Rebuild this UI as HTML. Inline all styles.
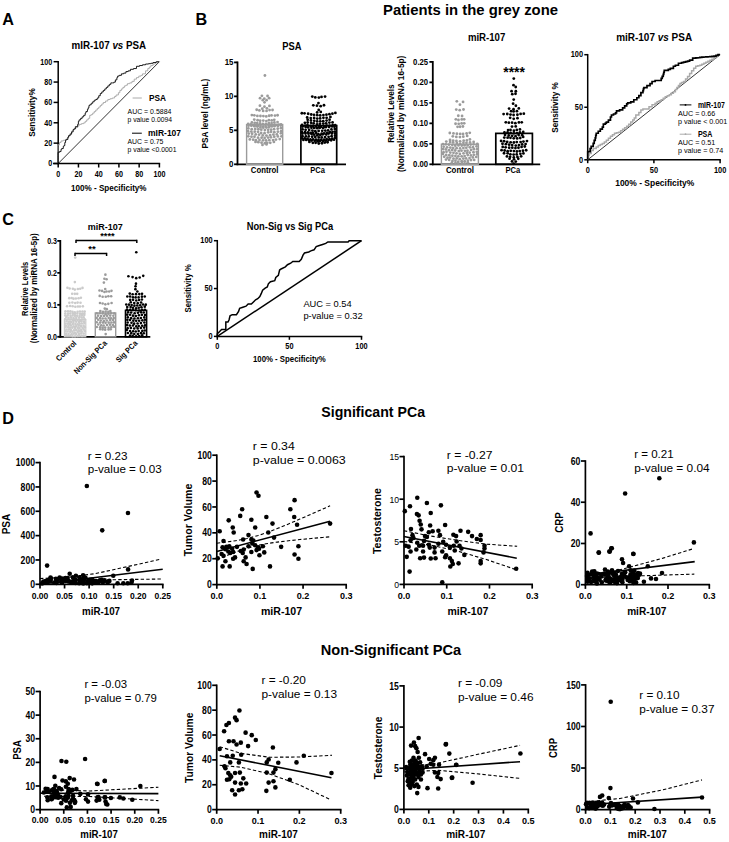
<!DOCTYPE html>
<html><head><meta charset="utf-8"><style>
html,body{margin:0;padding:0;background:#fff;}
svg{display:block;font-family:"Liberation Sans",sans-serif;}
</style></head><body>
<svg width="729" height="842" viewBox="0 0 729 842">
<rect width="729" height="842" fill="#fff"/>
<text x="2.30" y="25.00" font-size="16.2" font-weight="bold">A</text>
<text x="195.50" y="25.00" font-size="16.2" font-weight="bold">B</text>
<text x="2.30" y="224.60" font-size="16.2" font-weight="bold">C</text>
<text x="2.30" y="423.50" font-size="16.2" font-weight="bold">D</text>
<text x="383.00" y="14.70" font-size="15.2" font-weight="bold" textLength="175" lengthAdjust="spacingAndGlyphs">Patients in the grey zone</text>
<text x="321.30" y="416.50" font-size="14.6" font-weight="bold" textLength="103.7" lengthAdjust="spacingAndGlyphs">Significant PCa</text>
<text x="320.80" y="654.60" font-size="14.6" font-weight="bold" textLength="140.3" lengthAdjust="spacingAndGlyphs">Non-Significant PCa</text>
<line x1="58.20" y1="60.95" x2="58.20" y2="164.25" stroke="#000" stroke-width="1.5"/>
<line x1="53.60" y1="163.50" x2="58.20" y2="163.50" stroke="#000" stroke-width="1.5"/>
<text x="52.30" y="166.31" font-size="8.58" font-weight="bold" text-anchor="end" textLength="3.99" lengthAdjust="spacingAndGlyphs">0</text>
<line x1="53.60" y1="143.14" x2="58.20" y2="143.14" stroke="#000" stroke-width="1.5"/>
<text x="52.30" y="145.95" font-size="8.58" font-weight="bold" text-anchor="end" textLength="7.98" lengthAdjust="spacingAndGlyphs">20</text>
<line x1="53.60" y1="122.78" x2="58.20" y2="122.78" stroke="#000" stroke-width="1.5"/>
<text x="52.30" y="125.59" font-size="8.58" font-weight="bold" text-anchor="end" textLength="7.98" lengthAdjust="spacingAndGlyphs">40</text>
<line x1="53.60" y1="102.42" x2="58.20" y2="102.42" stroke="#000" stroke-width="1.5"/>
<text x="52.30" y="105.23" font-size="8.58" font-weight="bold" text-anchor="end" textLength="7.98" lengthAdjust="spacingAndGlyphs">60</text>
<line x1="53.60" y1="82.06" x2="58.20" y2="82.06" stroke="#000" stroke-width="1.5"/>
<text x="52.30" y="84.87" font-size="8.58" font-weight="bold" text-anchor="end" textLength="7.98" lengthAdjust="spacingAndGlyphs">80</text>
<line x1="53.60" y1="61.70" x2="58.20" y2="61.70" stroke="#000" stroke-width="1.5"/>
<text x="52.30" y="64.51" font-size="8.58" font-weight="bold" text-anchor="end" textLength="11.97" lengthAdjust="spacingAndGlyphs">100</text>
<line x1="53.05" y1="163.50" x2="160.15" y2="163.50" stroke="#000" stroke-width="1.5"/>
<line x1="58.20" y1="163.50" x2="58.20" y2="167.50" stroke="#000" stroke-width="1.5"/>
<text x="58.20" y="176.80" font-size="8.58" font-weight="bold" text-anchor="middle" textLength="3.99" lengthAdjust="spacingAndGlyphs">0</text>
<line x1="78.44" y1="163.50" x2="78.44" y2="167.50" stroke="#000" stroke-width="1.5"/>
<text x="78.44" y="176.80" font-size="8.58" font-weight="bold" text-anchor="middle" textLength="7.98" lengthAdjust="spacingAndGlyphs">20</text>
<line x1="98.68" y1="163.50" x2="98.68" y2="167.50" stroke="#000" stroke-width="1.5"/>
<text x="98.68" y="176.80" font-size="8.58" font-weight="bold" text-anchor="middle" textLength="7.98" lengthAdjust="spacingAndGlyphs">40</text>
<line x1="118.92" y1="163.50" x2="118.92" y2="167.50" stroke="#000" stroke-width="1.5"/>
<text x="118.92" y="176.80" font-size="8.58" font-weight="bold" text-anchor="middle" textLength="7.98" lengthAdjust="spacingAndGlyphs">60</text>
<line x1="139.16" y1="163.50" x2="139.16" y2="167.50" stroke="#000" stroke-width="1.5"/>
<text x="139.16" y="176.80" font-size="8.58" font-weight="bold" text-anchor="middle" textLength="7.98" lengthAdjust="spacingAndGlyphs">80</text>
<line x1="159.40" y1="163.50" x2="159.40" y2="167.50" stroke="#000" stroke-width="1.5"/>
<text x="159.40" y="176.80" font-size="8.58" font-weight="bold" text-anchor="middle" textLength="11.97" lengthAdjust="spacingAndGlyphs">100</text>
<text x="71.60" y="48.70" font-size="10.78" font-weight="bold" textLength="74.6" lengthAdjust="spacingAndGlyphs">mIR-107 <tspan font-style="italic">vs</tspan> PSA</text>
<text transform="translate(34.50 112.50) rotate(-90)" font-size="9.13" font-weight="bold" text-anchor="middle" textLength="48.5" lengthAdjust="spacingAndGlyphs">Sensitivity%</text>
<text x="108.80" y="190.50" font-size="8.8" font-weight="bold" text-anchor="middle" textLength="75.5" lengthAdjust="spacingAndGlyphs">100% - Specificity%</text>
<line x1="58.20" y1="163.50" x2="159.40" y2="61.70" stroke="#000" stroke-width="0.8"/>
<polyline points="58.02,162.12 58.02,160.36 58.02,160.36 58.02,158.60 58.02,158.60 58.02,156.84 58.02,156.84 58.02,155.08 58.02,155.08 58.02,153.32 58.02,153.32 58.02,151.56 58.02,151.56 58.02,149.80 58.02,149.80 58.02,148.04 58.02,148.04 58.02,146.28 58.02,146.28 58.02,144.77 59.53,144.77 59.53,142.50 61.04,142.50 61.04,140.99 63.30,140.99 63.30,140.24 65.56,140.24 65.56,139.48 67.07,139.48 67.07,137.98 68.58,137.98 68.58,135.71 70.09,135.71 70.09,133.45 71.60,133.45 71.60,131.19 73.11,131.19 73.11,129.68 74.62,129.68 74.62,128.17 76.13,128.17 76.13,127.41 77.63,127.41 77.63,125.90 79.14,125.90 79.14,124.40 81.41,124.40 81.41,123.64 83.67,123.64 83.67,122.89 85.18,122.89 85.18,121.38 86.69,121.38 86.69,119.87 88.20,119.87 88.20,118.36 89.71,118.36 89.71,115.34 91.22,115.34 91.22,114.59 92.72,114.59 92.72,113.08 94.23,113.08 94.23,111.57 95.74,111.57 95.74,110.06 97.25,110.06 97.25,108.55 98.76,108.55 98.76,107.04 100.27,107.04 100.27,105.53 101.78,105.53 101.78,104.02 103.29,104.02 103.29,102.51 105.55,102.51 105.55,101.01 107.81,101.01 107.81,99.50 110.08,99.50 110.08,98.74 112.34,98.74 112.34,97.99 114.60,97.99 114.60,96.48 116.11,96.48 116.11,94.97 118.38,94.97 118.38,92.71 119.89,92.71 119.89,90.44 121.40,90.44 121.40,88.93 122.90,88.93 122.90,87.43 124.41,87.43 124.41,85.92 125.92,85.92 125.92,85.16 127.43,85.16 127.43,83.65 129.69,83.65 129.69,82.90 131.96,82.90 131.96,81.39 134.22,81.39 134.22,79.13 136.48,79.13 136.48,77.62 138.75,77.62 138.75,76.11 141.01,76.11 141.01,75.35 142.52,75.35 142.52,73.84 145.54,73.84 145.54,70.83 147.80,70.83 147.80,68.56 149.31,68.56 149.31,67.05 150.82,67.05 150.82,65.54 153.08,65.54 153.08,64.04 155.35,64.04 155.35,62.90 157.23,62.90 157.23,61.77 159.12,61.77" fill="none" stroke="#a5a5a5" stroke-width="0.9" stroke-linejoin="miter"/>
<polyline points="58.02,162.12 58.02,160.46 58.02,160.46 58.02,158.80 58.02,158.80 58.02,157.14 58.02,157.14 58.02,155.48 58.02,155.48 58.02,153.82 58.02,153.82 58.02,152.31 59.53,152.31 59.53,151.56 61.04,151.56 61.04,149.29 61.79,149.29 61.79,148.54 63.30,148.54 63.30,146.28 64.05,146.28 64.05,145.52 64.81,145.52 64.81,142.50 65.56,142.50 65.56,140.24 66.32,140.24 66.32,139.48 67.83,139.48 67.83,137.22 68.58,137.22 68.58,135.71 70.09,135.71 70.09,134.20 71.60,134.20 71.60,131.94 73.11,131.94 73.11,129.68 73.86,129.68 73.86,128.92 75.37,128.92 75.37,126.66 77.63,126.66 77.63,124.40 78.39,124.40 78.39,121.38 79.14,121.38 79.14,119.87 80.65,119.87 80.65,118.36 82.16,118.36 82.16,116.85 83.67,116.85 83.67,115.34 85.18,115.34 85.18,113.08 85.93,113.08 85.93,111.57 87.44,111.57 87.44,109.31 88.20,109.31 88.20,107.80 88.95,107.80 88.95,105.53 89.71,105.53 89.71,104.78 91.22,104.78 91.22,103.27 92.72,103.27 92.72,101.76 94.23,101.76 94.23,100.25 95.74,100.25 95.74,99.50 97.25,99.50 97.25,97.99 98.76,97.99 98.76,95.72 100.27,95.72 100.27,93.46 101.78,93.46 101.78,91.95 103.29,91.95 103.29,90.44 104.80,90.44 104.80,88.93 106.31,88.93 106.31,87.43 107.81,87.43 107.81,85.92 109.32,85.92 109.32,84.41 110.83,84.41 110.83,82.90 112.34,82.90 112.34,82.90 113.85,82.90 113.85,82.14 115.36,82.14 115.36,79.88 116.87,79.88 116.87,77.62 117.62,77.62 117.62,76.11 119.13,76.11 119.13,75.35 121.40,75.35 121.40,73.84 123.66,73.84 123.66,73.09 125.92,73.09 125.92,71.58 128.19,71.58 128.19,70.83 130.45,70.83 130.45,69.32 133.47,69.32 133.47,68.56 136.48,68.56 136.48,66.30 139.50,66.30 139.50,65.54 142.52,65.54 142.52,64.79 145.54,64.79 145.54,64.04 148.56,64.04 148.56,63.66 150.82,63.66 150.82,63.28 153.08,63.28 153.08,62.53 156.10,62.53 156.10,61.77 159.12,61.77" fill="none" stroke="#111" stroke-width="0.95" stroke-linejoin="miter"/>
<line x1="132.60" y1="98.00" x2="141.80" y2="98.00" stroke="#aaa" stroke-width="1.0"/>
<text x="149.00" y="101.40" font-size="9.35" font-weight="bold" textLength="17" lengthAdjust="spacingAndGlyphs">PSA</text>
<text x="127.50" y="113.80" font-size="6.9" textLength="43.9" lengthAdjust="spacingAndGlyphs">AUC = 0.5884</text>
<text x="127.50" y="121.80" font-size="6.9" textLength="44.5" lengthAdjust="spacingAndGlyphs">p value 0.0094</text>
<line x1="132.00" y1="133.20" x2="141.80" y2="133.20" stroke="#000" stroke-width="1.0"/>
<text x="148.00" y="136.20" font-size="9.35" font-weight="bold" textLength="33.07" lengthAdjust="spacingAndGlyphs">mIR-107</text>
<text x="127.50" y="144.20" font-size="6.9">AUC = 0.75</text>
<text x="127.50" y="152.40" font-size="6.9" textLength="49" lengthAdjust="spacingAndGlyphs">p value &lt;0.0001</text>
<line x1="237.50" y1="61.50" x2="237.50" y2="165.20" stroke="#000" stroke-width="1.8"/>
<line x1="234.10" y1="164.30" x2="237.50" y2="164.30" stroke="#000" stroke-width="1.8"/>
<text x="233.50" y="167.14" font-size="8.69" font-weight="bold" text-anchor="end" textLength="4.39" lengthAdjust="spacingAndGlyphs">0</text>
<line x1="234.10" y1="130.33" x2="237.50" y2="130.33" stroke="#000" stroke-width="1.8"/>
<text x="233.50" y="133.18" font-size="8.69" font-weight="bold" text-anchor="end" textLength="4.39" lengthAdjust="spacingAndGlyphs">5</text>
<line x1="234.10" y1="96.37" x2="237.50" y2="96.37" stroke="#000" stroke-width="1.8"/>
<text x="233.50" y="99.21" font-size="8.69" font-weight="bold" text-anchor="end" textLength="8.79" lengthAdjust="spacingAndGlyphs">10</text>
<line x1="234.10" y1="62.40" x2="237.50" y2="62.40" stroke="#000" stroke-width="1.8"/>
<text x="233.50" y="65.24" font-size="8.69" font-weight="bold" text-anchor="end" textLength="8.79" lengthAdjust="spacingAndGlyphs">15</text>
<line x1="236.60" y1="164.30" x2="346.00" y2="164.30" stroke="#000" stroke-width="1.8"/>
<circle cx="264.92" cy="75.51" r="1.4" fill="#9b9b9b"/>
<circle cx="261.91" cy="95.86" r="1.4" fill="#9b9b9b"/>
<circle cx="267.55" cy="95.99" r="1.4" fill="#9b9b9b"/>
<circle cx="260.04" cy="98.22" r="1.4" fill="#9b9b9b"/>
<circle cx="264.27" cy="98.54" r="1.4" fill="#9b9b9b"/>
<circle cx="269.13" cy="98.16" r="1.4" fill="#9b9b9b"/>
<circle cx="262.80" cy="100.22" r="1.4" fill="#9b9b9b"/>
<circle cx="266.57" cy="100.20" r="1.4" fill="#9b9b9b"/>
<circle cx="264.53" cy="102.31" r="1.4" fill="#9b9b9b"/>
<circle cx="259.93" cy="105.72" r="1.4" fill="#9b9b9b"/>
<circle cx="264.45" cy="106.70" r="1.4" fill="#9b9b9b"/>
<circle cx="269.44" cy="105.95" r="1.4" fill="#9b9b9b"/>
<circle cx="262.26" cy="108.67" r="1.4" fill="#9b9b9b"/>
<circle cx="266.94" cy="108.33" r="1.4" fill="#9b9b9b"/>
<circle cx="256.68" cy="109.74" r="1.4" fill="#9b9b9b"/>
<circle cx="259.38" cy="110.42" r="1.4" fill="#9b9b9b"/>
<circle cx="263.14" cy="110.90" r="1.4" fill="#9b9b9b"/>
<circle cx="266.54" cy="110.89" r="1.4" fill="#9b9b9b"/>
<circle cx="269.57" cy="110.04" r="1.4" fill="#9b9b9b"/>
<circle cx="272.54" cy="109.98" r="1.4" fill="#9b9b9b"/>
<circle cx="251.85" cy="115.05" r="1.4" fill="#9b9b9b"/>
<circle cx="254.32" cy="115.36" r="1.4" fill="#9b9b9b"/>
<circle cx="257.38" cy="115.91" r="1.4" fill="#9b9b9b"/>
<circle cx="260.44" cy="115.99" r="1.4" fill="#9b9b9b"/>
<circle cx="263.38" cy="116.05" r="1.4" fill="#9b9b9b"/>
<circle cx="266.25" cy="116.47" r="1.4" fill="#9b9b9b"/>
<circle cx="269.14" cy="115.73" r="1.4" fill="#9b9b9b"/>
<circle cx="271.53" cy="115.39" r="1.4" fill="#9b9b9b"/>
<circle cx="274.96" cy="115.57" r="1.4" fill="#9b9b9b"/>
<circle cx="277.58" cy="115.24" r="1.4" fill="#9b9b9b"/>
<circle cx="254.25" cy="119.62" r="1.4" fill="#9b9b9b"/>
<circle cx="257.61" cy="120.26" r="1.4" fill="#9b9b9b"/>
<circle cx="260.16" cy="120.75" r="1.4" fill="#9b9b9b"/>
<circle cx="263.27" cy="120.60" r="1.4" fill="#9b9b9b"/>
<circle cx="266.35" cy="121.07" r="1.4" fill="#9b9b9b"/>
<circle cx="268.87" cy="120.21" r="1.4" fill="#9b9b9b"/>
<circle cx="271.69" cy="120.46" r="1.4" fill="#9b9b9b"/>
<circle cx="274.27" cy="119.87" r="1.4" fill="#9b9b9b"/>
<circle cx="251.89" cy="122.38" r="1.4" fill="#9b9b9b"/>
<circle cx="254.76" cy="122.85" r="1.4" fill="#9b9b9b"/>
<circle cx="257.20" cy="123.06" r="1.4" fill="#9b9b9b"/>
<circle cx="260.06" cy="123.49" r="1.4" fill="#9b9b9b"/>
<circle cx="262.85" cy="123.89" r="1.4" fill="#9b9b9b"/>
<circle cx="265.81" cy="123.89" r="1.4" fill="#9b9b9b"/>
<circle cx="268.81" cy="123.18" r="1.4" fill="#9b9b9b"/>
<circle cx="271.60" cy="123.09" r="1.4" fill="#9b9b9b"/>
<circle cx="274.37" cy="122.50" r="1.4" fill="#9b9b9b"/>
<circle cx="277.54" cy="122.05" r="1.4" fill="#9b9b9b"/>
<circle cx="248.19" cy="123.90" r="1.4" fill="#9b9b9b"/>
<circle cx="250.80" cy="124.43" r="1.4" fill="#9b9b9b"/>
<circle cx="253.13" cy="124.95" r="1.4" fill="#9b9b9b"/>
<circle cx="255.81" cy="125.43" r="1.4" fill="#9b9b9b"/>
<circle cx="258.14" cy="125.69" r="1.4" fill="#9b9b9b"/>
<circle cx="260.58" cy="125.78" r="1.4" fill="#9b9b9b"/>
<circle cx="263.15" cy="126.44" r="1.4" fill="#9b9b9b"/>
<circle cx="265.57" cy="125.85" r="1.4" fill="#9b9b9b"/>
<circle cx="268.59" cy="125.55" r="1.4" fill="#9b9b9b"/>
<circle cx="270.69" cy="125.60" r="1.4" fill="#9b9b9b"/>
<circle cx="273.43" cy="125.03" r="1.4" fill="#9b9b9b"/>
<circle cx="275.99" cy="124.96" r="1.4" fill="#9b9b9b"/>
<circle cx="278.80" cy="124.59" r="1.4" fill="#9b9b9b"/>
<circle cx="281.01" cy="124.40" r="1.4" fill="#9b9b9b"/>
<circle cx="248.51" cy="125.64" r="1.4" fill="#9b9b9b"/>
<circle cx="251.30" cy="125.72" r="1.4" fill="#9b9b9b"/>
<circle cx="254.29" cy="126.21" r="1.4" fill="#9b9b9b"/>
<circle cx="257.38" cy="126.58" r="1.4" fill="#9b9b9b"/>
<circle cx="260.43" cy="127.45" r="1.4" fill="#9b9b9b"/>
<circle cx="263.33" cy="127.66" r="1.4" fill="#9b9b9b"/>
<circle cx="266.35" cy="127.50" r="1.4" fill="#9b9b9b"/>
<circle cx="268.96" cy="127.23" r="1.4" fill="#9b9b9b"/>
<circle cx="271.86" cy="126.39" r="1.4" fill="#9b9b9b"/>
<circle cx="274.52" cy="126.15" r="1.4" fill="#9b9b9b"/>
<circle cx="277.89" cy="126.03" r="1.4" fill="#9b9b9b"/>
<circle cx="280.79" cy="125.52" r="1.4" fill="#9b9b9b"/>
<circle cx="248.35" cy="128.40" r="1.4" fill="#9b9b9b"/>
<circle cx="251.73" cy="129.14" r="1.4" fill="#9b9b9b"/>
<circle cx="255.24" cy="128.98" r="1.4" fill="#9b9b9b"/>
<circle cx="258.36" cy="129.23" r="1.4" fill="#9b9b9b"/>
<circle cx="261.32" cy="129.67" r="1.4" fill="#9b9b9b"/>
<circle cx="264.84" cy="130.09" r="1.4" fill="#9b9b9b"/>
<circle cx="268.13" cy="129.83" r="1.4" fill="#9b9b9b"/>
<circle cx="271.14" cy="129.63" r="1.4" fill="#9b9b9b"/>
<circle cx="274.07" cy="129.17" r="1.4" fill="#9b9b9b"/>
<circle cx="277.71" cy="128.68" r="1.4" fill="#9b9b9b"/>
<circle cx="280.94" cy="128.14" r="1.4" fill="#9b9b9b"/>
<circle cx="248.00" cy="131.23" r="1.4" fill="#9b9b9b"/>
<circle cx="251.32" cy="131.53" r="1.4" fill="#9b9b9b"/>
<circle cx="254.70" cy="131.72" r="1.4" fill="#9b9b9b"/>
<circle cx="258.00" cy="131.82" r="1.4" fill="#9b9b9b"/>
<circle cx="261.15" cy="132.98" r="1.4" fill="#9b9b9b"/>
<circle cx="264.56" cy="133.20" r="1.4" fill="#9b9b9b"/>
<circle cx="268.18" cy="132.37" r="1.4" fill="#9b9b9b"/>
<circle cx="271.06" cy="131.82" r="1.4" fill="#9b9b9b"/>
<circle cx="274.33" cy="132.21" r="1.4" fill="#9b9b9b"/>
<circle cx="277.87" cy="131.70" r="1.4" fill="#9b9b9b"/>
<circle cx="281.19" cy="131.26" r="1.4" fill="#9b9b9b"/>
<circle cx="248.78" cy="133.57" r="1.4" fill="#9b9b9b"/>
<circle cx="252.12" cy="133.73" r="1.4" fill="#9b9b9b"/>
<circle cx="255.70" cy="134.43" r="1.4" fill="#9b9b9b"/>
<circle cx="259.07" cy="134.66" r="1.4" fill="#9b9b9b"/>
<circle cx="262.74" cy="135.44" r="1.4" fill="#9b9b9b"/>
<circle cx="266.45" cy="135.62" r="1.4" fill="#9b9b9b"/>
<circle cx="270.10" cy="135.25" r="1.4" fill="#9b9b9b"/>
<circle cx="273.34" cy="134.61" r="1.4" fill="#9b9b9b"/>
<circle cx="276.87" cy="134.33" r="1.4" fill="#9b9b9b"/>
<circle cx="280.92" cy="133.34" r="1.4" fill="#9b9b9b"/>
<circle cx="248.29" cy="136.35" r="1.4" fill="#9b9b9b"/>
<circle cx="251.48" cy="136.74" r="1.4" fill="#9b9b9b"/>
<circle cx="254.48" cy="136.74" r="1.4" fill="#9b9b9b"/>
<circle cx="258.05" cy="137.65" r="1.4" fill="#9b9b9b"/>
<circle cx="261.62" cy="137.63" r="1.4" fill="#9b9b9b"/>
<circle cx="264.61" cy="138.02" r="1.4" fill="#9b9b9b"/>
<circle cx="268.05" cy="137.62" r="1.4" fill="#9b9b9b"/>
<circle cx="270.94" cy="137.33" r="1.4" fill="#9b9b9b"/>
<circle cx="274.27" cy="136.75" r="1.4" fill="#9b9b9b"/>
<circle cx="277.83" cy="136.47" r="1.4" fill="#9b9b9b"/>
<circle cx="281.42" cy="136.28" r="1.4" fill="#9b9b9b"/>
<circle cx="249.81" cy="139.46" r="1.4" fill="#9b9b9b"/>
<circle cx="253.17" cy="139.64" r="1.4" fill="#9b9b9b"/>
<circle cx="255.93" cy="140.25" r="1.4" fill="#9b9b9b"/>
<circle cx="259.50" cy="139.99" r="1.4" fill="#9b9b9b"/>
<circle cx="263.00" cy="140.37" r="1.4" fill="#9b9b9b"/>
<circle cx="266.10" cy="140.51" r="1.4" fill="#9b9b9b"/>
<circle cx="269.32" cy="140.13" r="1.4" fill="#9b9b9b"/>
<circle cx="273.04" cy="140.09" r="1.4" fill="#9b9b9b"/>
<circle cx="275.94" cy="139.59" r="1.4" fill="#9b9b9b"/>
<circle cx="279.73" cy="139.04" r="1.4" fill="#9b9b9b"/>
<circle cx="255.52" cy="141.95" r="1.4" fill="#9b9b9b"/>
<circle cx="258.31" cy="142.20" r="1.4" fill="#9b9b9b"/>
<circle cx="261.54" cy="142.71" r="1.4" fill="#9b9b9b"/>
<circle cx="264.87" cy="143.27" r="1.4" fill="#9b9b9b"/>
<circle cx="267.27" cy="142.79" r="1.4" fill="#9b9b9b"/>
<circle cx="270.29" cy="142.84" r="1.4" fill="#9b9b9b"/>
<circle cx="273.92" cy="141.89" r="1.4" fill="#9b9b9b"/>
<circle cx="262.49" cy="144.96" r="1.4" fill="#9b9b9b"/>
<circle cx="266.52" cy="144.47" r="1.4" fill="#9b9b9b"/>
<rect x="246.60" y="124.56" width="36.10" height="39.74" fill="none" stroke="#9b9b9b" stroke-width="1.4"/>
<circle cx="312.31" cy="96.56" r="1.4" fill="#000"/>
<circle cx="315.29" cy="97.38" r="1.4" fill="#000"/>
<circle cx="318.86" cy="97.58" r="1.4" fill="#000"/>
<circle cx="321.51" cy="96.88" r="1.4" fill="#000"/>
<circle cx="325.06" cy="96.57" r="1.4" fill="#000"/>
<circle cx="318.46" cy="103.05" r="1.4" fill="#000"/>
<circle cx="313.32" cy="105.29" r="1.4" fill="#000"/>
<circle cx="316.96" cy="105.72" r="1.4" fill="#000"/>
<circle cx="320.66" cy="106.15" r="1.4" fill="#000"/>
<circle cx="323.98" cy="105.25" r="1.4" fill="#000"/>
<circle cx="318.71" cy="109.88" r="1.4" fill="#000"/>
<circle cx="317.14" cy="112.40" r="1.4" fill="#000"/>
<circle cx="320.75" cy="111.94" r="1.4" fill="#000"/>
<circle cx="301.84" cy="113.24" r="1.4" fill="#000"/>
<circle cx="304.51" cy="113.32" r="1.4" fill="#000"/>
<circle cx="308.15" cy="113.76" r="1.4" fill="#000"/>
<circle cx="311.22" cy="114.52" r="1.4" fill="#000"/>
<circle cx="314.00" cy="114.86" r="1.4" fill="#000"/>
<circle cx="317.22" cy="115.13" r="1.4" fill="#000"/>
<circle cx="320.20" cy="115.40" r="1.4" fill="#000"/>
<circle cx="323.42" cy="115.06" r="1.4" fill="#000"/>
<circle cx="326.43" cy="114.64" r="1.4" fill="#000"/>
<circle cx="329.41" cy="114.16" r="1.4" fill="#000"/>
<circle cx="332.41" cy="113.65" r="1.4" fill="#000"/>
<circle cx="335.38" cy="112.94" r="1.4" fill="#000"/>
<circle cx="307.17" cy="117.48" r="1.4" fill="#000"/>
<circle cx="310.72" cy="118.03" r="1.4" fill="#000"/>
<circle cx="314.10" cy="118.02" r="1.4" fill="#000"/>
<circle cx="317.24" cy="118.58" r="1.4" fill="#000"/>
<circle cx="320.13" cy="118.43" r="1.4" fill="#000"/>
<circle cx="323.41" cy="117.85" r="1.4" fill="#000"/>
<circle cx="326.64" cy="117.80" r="1.4" fill="#000"/>
<circle cx="330.43" cy="116.94" r="1.4" fill="#000"/>
<circle cx="307.67" cy="119.76" r="1.4" fill="#000"/>
<circle cx="310.93" cy="120.45" r="1.4" fill="#000"/>
<circle cx="314.29" cy="120.84" r="1.4" fill="#000"/>
<circle cx="317.18" cy="121.41" r="1.4" fill="#000"/>
<circle cx="320.28" cy="121.31" r="1.4" fill="#000"/>
<circle cx="323.22" cy="121.21" r="1.4" fill="#000"/>
<circle cx="326.60" cy="120.61" r="1.4" fill="#000"/>
<circle cx="329.56" cy="119.71" r="1.4" fill="#000"/>
<circle cx="304.90" cy="122.86" r="1.4" fill="#000"/>
<circle cx="307.67" cy="122.50" r="1.4" fill="#000"/>
<circle cx="311.15" cy="122.87" r="1.4" fill="#000"/>
<circle cx="313.72" cy="123.33" r="1.4" fill="#000"/>
<circle cx="317.11" cy="124.40" r="1.4" fill="#000"/>
<circle cx="319.94" cy="123.87" r="1.4" fill="#000"/>
<circle cx="323.27" cy="123.55" r="1.4" fill="#000"/>
<circle cx="326.13" cy="123.29" r="1.4" fill="#000"/>
<circle cx="329.39" cy="122.61" r="1.4" fill="#000"/>
<circle cx="332.56" cy="122.47" r="1.4" fill="#000"/>
<circle cx="302.05" cy="125.01" r="1.4" fill="#000"/>
<circle cx="305.27" cy="125.58" r="1.4" fill="#000"/>
<circle cx="307.50" cy="125.23" r="1.4" fill="#000"/>
<circle cx="310.64" cy="125.96" r="1.4" fill="#000"/>
<circle cx="312.98" cy="125.89" r="1.4" fill="#000"/>
<circle cx="316.07" cy="126.54" r="1.4" fill="#000"/>
<circle cx="318.96" cy="127.22" r="1.4" fill="#000"/>
<circle cx="321.14" cy="126.81" r="1.4" fill="#000"/>
<circle cx="324.28" cy="126.62" r="1.4" fill="#000"/>
<circle cx="326.78" cy="125.58" r="1.4" fill="#000"/>
<circle cx="329.62" cy="125.68" r="1.4" fill="#000"/>
<circle cx="332.66" cy="125.21" r="1.4" fill="#000"/>
<circle cx="335.23" cy="125.18" r="1.4" fill="#000"/>
<circle cx="302.63" cy="126.61" r="1.4" fill="#000"/>
<circle cx="305.68" cy="127.11" r="1.4" fill="#000"/>
<circle cx="308.20" cy="127.45" r="1.4" fill="#000"/>
<circle cx="311.47" cy="127.73" r="1.4" fill="#000"/>
<circle cx="314.12" cy="127.95" r="1.4" fill="#000"/>
<circle cx="317.10" cy="128.16" r="1.4" fill="#000"/>
<circle cx="319.81" cy="127.81" r="1.4" fill="#000"/>
<circle cx="323.18" cy="128.10" r="1.4" fill="#000"/>
<circle cx="325.80" cy="127.19" r="1.4" fill="#000"/>
<circle cx="329.10" cy="127.05" r="1.4" fill="#000"/>
<circle cx="332.12" cy="126.42" r="1.4" fill="#000"/>
<circle cx="334.52" cy="126.74" r="1.4" fill="#000"/>
<circle cx="302.60" cy="129.39" r="1.4" fill="#000"/>
<circle cx="305.61" cy="129.82" r="1.4" fill="#000"/>
<circle cx="309.16" cy="130.02" r="1.4" fill="#000"/>
<circle cx="312.43" cy="130.53" r="1.4" fill="#000"/>
<circle cx="315.32" cy="131.13" r="1.4" fill="#000"/>
<circle cx="318.62" cy="130.92" r="1.4" fill="#000"/>
<circle cx="322.22" cy="130.87" r="1.4" fill="#000"/>
<circle cx="325.27" cy="130.60" r="1.4" fill="#000"/>
<circle cx="328.14" cy="130.43" r="1.4" fill="#000"/>
<circle cx="331.45" cy="129.47" r="1.4" fill="#000"/>
<circle cx="334.81" cy="129.12" r="1.4" fill="#000"/>
<circle cx="301.96" cy="132.18" r="1.4" fill="#000"/>
<circle cx="305.07" cy="132.16" r="1.4" fill="#000"/>
<circle cx="307.99" cy="132.47" r="1.4" fill="#000"/>
<circle cx="310.72" cy="133.00" r="1.4" fill="#000"/>
<circle cx="312.99" cy="132.83" r="1.4" fill="#000"/>
<circle cx="316.18" cy="133.12" r="1.4" fill="#000"/>
<circle cx="318.36" cy="134.17" r="1.4" fill="#000"/>
<circle cx="321.61" cy="133.70" r="1.4" fill="#000"/>
<circle cx="324.04" cy="133.47" r="1.4" fill="#000"/>
<circle cx="326.77" cy="132.98" r="1.4" fill="#000"/>
<circle cx="329.87" cy="132.14" r="1.4" fill="#000"/>
<circle cx="332.59" cy="131.78" r="1.4" fill="#000"/>
<circle cx="335.19" cy="131.65" r="1.4" fill="#000"/>
<circle cx="302.52" cy="133.49" r="1.4" fill="#000"/>
<circle cx="305.51" cy="133.50" r="1.4" fill="#000"/>
<circle cx="308.50" cy="133.63" r="1.4" fill="#000"/>
<circle cx="311.64" cy="133.97" r="1.4" fill="#000"/>
<circle cx="314.18" cy="134.67" r="1.4" fill="#000"/>
<circle cx="317.14" cy="135.30" r="1.4" fill="#000"/>
<circle cx="320.32" cy="135.06" r="1.4" fill="#000"/>
<circle cx="322.72" cy="134.39" r="1.4" fill="#000"/>
<circle cx="326.29" cy="134.54" r="1.4" fill="#000"/>
<circle cx="328.64" cy="133.61" r="1.4" fill="#000"/>
<circle cx="331.86" cy="133.48" r="1.4" fill="#000"/>
<circle cx="335.02" cy="133.57" r="1.4" fill="#000"/>
<circle cx="302.52" cy="136.27" r="1.4" fill="#000"/>
<circle cx="305.86" cy="136.34" r="1.4" fill="#000"/>
<circle cx="308.80" cy="136.43" r="1.4" fill="#000"/>
<circle cx="312.20" cy="136.77" r="1.4" fill="#000"/>
<circle cx="315.26" cy="137.09" r="1.4" fill="#000"/>
<circle cx="318.79" cy="137.44" r="1.4" fill="#000"/>
<circle cx="321.72" cy="137.41" r="1.4" fill="#000"/>
<circle cx="325.05" cy="137.05" r="1.4" fill="#000"/>
<circle cx="328.60" cy="136.78" r="1.4" fill="#000"/>
<circle cx="331.60" cy="136.15" r="1.4" fill="#000"/>
<circle cx="335.01" cy="135.66" r="1.4" fill="#000"/>
<circle cx="301.96" cy="138.31" r="1.4" fill="#000"/>
<circle cx="304.71" cy="138.36" r="1.4" fill="#000"/>
<circle cx="307.56" cy="138.62" r="1.4" fill="#000"/>
<circle cx="310.42" cy="139.47" r="1.4" fill="#000"/>
<circle cx="313.14" cy="139.36" r="1.4" fill="#000"/>
<circle cx="316.11" cy="139.68" r="1.4" fill="#000"/>
<circle cx="318.55" cy="139.85" r="1.4" fill="#000"/>
<circle cx="321.23" cy="139.73" r="1.4" fill="#000"/>
<circle cx="323.98" cy="139.73" r="1.4" fill="#000"/>
<circle cx="326.64" cy="139.05" r="1.4" fill="#000"/>
<circle cx="329.60" cy="139.08" r="1.4" fill="#000"/>
<circle cx="332.25" cy="138.67" r="1.4" fill="#000"/>
<circle cx="335.08" cy="137.84" r="1.4" fill="#000"/>
<circle cx="303.44" cy="139.96" r="1.4" fill="#000"/>
<circle cx="306.26" cy="139.96" r="1.4" fill="#000"/>
<circle cx="308.85" cy="140.06" r="1.4" fill="#000"/>
<circle cx="311.61" cy="140.56" r="1.4" fill="#000"/>
<circle cx="314.75" cy="140.87" r="1.4" fill="#000"/>
<circle cx="317.60" cy="141.27" r="1.4" fill="#000"/>
<circle cx="320.06" cy="141.12" r="1.4" fill="#000"/>
<circle cx="323.07" cy="141.05" r="1.4" fill="#000"/>
<circle cx="325.74" cy="140.63" r="1.4" fill="#000"/>
<circle cx="328.43" cy="140.07" r="1.4" fill="#000"/>
<circle cx="331.11" cy="140.26" r="1.4" fill="#000"/>
<circle cx="334.02" cy="139.71" r="1.4" fill="#000"/>
<circle cx="309.43" cy="141.95" r="1.4" fill="#000"/>
<circle cx="312.83" cy="142.83" r="1.4" fill="#000"/>
<circle cx="315.62" cy="142.84" r="1.4" fill="#000"/>
<circle cx="318.77" cy="143.48" r="1.4" fill="#000"/>
<circle cx="321.99" cy="143.27" r="1.4" fill="#000"/>
<circle cx="324.81" cy="142.57" r="1.4" fill="#000"/>
<circle cx="327.57" cy="142.26" r="1.4" fill="#000"/>
<rect x="300.90" y="125.58" width="35.80" height="38.72" fill="none" stroke="#000" stroke-width="1.7"/>
<text x="264.60" y="173.30" font-size="8.58" font-weight="bold" text-anchor="middle" textLength="27.7" lengthAdjust="spacingAndGlyphs">Control</text>
<text x="317.60" y="173.30" font-size="8.58" font-weight="bold" text-anchor="middle" textLength="14.6" lengthAdjust="spacingAndGlyphs">PCa</text>
<text x="291.80" y="50.10" font-size="10.56" font-weight="bold" text-anchor="middle" textLength="19.2" lengthAdjust="spacingAndGlyphs">PSA</text>
<text transform="translate(208.30 113.60) rotate(-90)" font-size="9.02" font-weight="bold" text-anchor="middle" textLength="69.7" lengthAdjust="spacingAndGlyphs">PSA level (ng/mL)</text>
<line x1="432.80" y1="61.00" x2="432.80" y2="165.20" stroke="#000" stroke-width="1.8"/>
<line x1="429.40" y1="164.30" x2="432.80" y2="164.30" stroke="#000" stroke-width="1.8"/>
<text x="428.10" y="167.07" font-size="8.47" font-weight="bold" text-anchor="end" textLength="14.98" lengthAdjust="spacingAndGlyphs">0.00</text>
<line x1="429.40" y1="143.82" x2="432.80" y2="143.82" stroke="#000" stroke-width="1.8"/>
<text x="428.10" y="146.59" font-size="8.47" font-weight="bold" text-anchor="end" textLength="14.98" lengthAdjust="spacingAndGlyphs">0.05</text>
<line x1="429.40" y1="123.34" x2="432.80" y2="123.34" stroke="#000" stroke-width="1.8"/>
<text x="428.10" y="126.11" font-size="8.47" font-weight="bold" text-anchor="end" textLength="14.98" lengthAdjust="spacingAndGlyphs">0.10</text>
<line x1="429.40" y1="102.86" x2="432.80" y2="102.86" stroke="#000" stroke-width="1.8"/>
<text x="428.10" y="105.63" font-size="8.47" font-weight="bold" text-anchor="end" textLength="14.98" lengthAdjust="spacingAndGlyphs">0.15</text>
<line x1="429.40" y1="82.38" x2="432.80" y2="82.38" stroke="#000" stroke-width="1.8"/>
<text x="428.10" y="85.15" font-size="8.47" font-weight="bold" text-anchor="end" textLength="14.98" lengthAdjust="spacingAndGlyphs">0.20</text>
<line x1="429.40" y1="61.90" x2="432.80" y2="61.90" stroke="#000" stroke-width="1.8"/>
<text x="428.10" y="64.67" font-size="8.47" font-weight="bold" text-anchor="end" textLength="14.98" lengthAdjust="spacingAndGlyphs">0.25</text>
<line x1="431.90" y1="164.30" x2="540.20" y2="164.30" stroke="#000" stroke-width="1.8"/>
<circle cx="456.82" cy="101.31" r="1.4" fill="#9b9b9b"/>
<circle cx="463.06" cy="101.88" r="1.4" fill="#9b9b9b"/>
<circle cx="459.95" cy="104.68" r="1.4" fill="#9b9b9b"/>
<circle cx="456.26" cy="109.56" r="1.4" fill="#9b9b9b"/>
<circle cx="459.73" cy="110.19" r="1.4" fill="#9b9b9b"/>
<circle cx="463.51" cy="109.49" r="1.4" fill="#9b9b9b"/>
<circle cx="458.31" cy="115.73" r="1.4" fill="#9b9b9b"/>
<circle cx="462.07" cy="115.98" r="1.4" fill="#9b9b9b"/>
<circle cx="455.85" cy="119.32" r="1.4" fill="#9b9b9b"/>
<circle cx="458.44" cy="119.99" r="1.4" fill="#9b9b9b"/>
<circle cx="461.75" cy="119.43" r="1.4" fill="#9b9b9b"/>
<circle cx="464.12" cy="119.33" r="1.4" fill="#9b9b9b"/>
<circle cx="455.56" cy="123.77" r="1.4" fill="#9b9b9b"/>
<circle cx="458.69" cy="123.80" r="1.4" fill="#9b9b9b"/>
<circle cx="461.64" cy="123.44" r="1.4" fill="#9b9b9b"/>
<circle cx="464.21" cy="123.36" r="1.4" fill="#9b9b9b"/>
<circle cx="457.55" cy="126.80" r="1.4" fill="#9b9b9b"/>
<circle cx="460.09" cy="126.77" r="1.4" fill="#9b9b9b"/>
<circle cx="462.92" cy="126.51" r="1.4" fill="#9b9b9b"/>
<circle cx="449.80" cy="132.98" r="1.4" fill="#9b9b9b"/>
<circle cx="453.44" cy="133.46" r="1.4" fill="#9b9b9b"/>
<circle cx="456.89" cy="133.75" r="1.4" fill="#9b9b9b"/>
<circle cx="460.18" cy="133.94" r="1.4" fill="#9b9b9b"/>
<circle cx="463.05" cy="133.90" r="1.4" fill="#9b9b9b"/>
<circle cx="466.59" cy="133.48" r="1.4" fill="#9b9b9b"/>
<circle cx="469.75" cy="132.78" r="1.4" fill="#9b9b9b"/>
<circle cx="452.85" cy="136.32" r="1.4" fill="#9b9b9b"/>
<circle cx="456.34" cy="136.88" r="1.4" fill="#9b9b9b"/>
<circle cx="459.93" cy="137.05" r="1.4" fill="#9b9b9b"/>
<circle cx="463.29" cy="136.67" r="1.4" fill="#9b9b9b"/>
<circle cx="467.17" cy="135.90" r="1.4" fill="#9b9b9b"/>
<circle cx="450.05" cy="140.00" r="1.4" fill="#9b9b9b"/>
<circle cx="453.13" cy="140.54" r="1.4" fill="#9b9b9b"/>
<circle cx="456.43" cy="140.88" r="1.4" fill="#9b9b9b"/>
<circle cx="460.09" cy="141.37" r="1.4" fill="#9b9b9b"/>
<circle cx="463.66" cy="140.69" r="1.4" fill="#9b9b9b"/>
<circle cx="466.87" cy="140.43" r="1.4" fill="#9b9b9b"/>
<circle cx="469.91" cy="139.44" r="1.4" fill="#9b9b9b"/>
<circle cx="446.29" cy="141.55" r="1.4" fill="#9b9b9b"/>
<circle cx="450.13" cy="142.06" r="1.4" fill="#9b9b9b"/>
<circle cx="453.11" cy="142.39" r="1.4" fill="#9b9b9b"/>
<circle cx="456.87" cy="143.09" r="1.4" fill="#9b9b9b"/>
<circle cx="460.15" cy="143.87" r="1.4" fill="#9b9b9b"/>
<circle cx="463.41" cy="142.87" r="1.4" fill="#9b9b9b"/>
<circle cx="466.44" cy="142.85" r="1.4" fill="#9b9b9b"/>
<circle cx="470.03" cy="142.43" r="1.4" fill="#9b9b9b"/>
<circle cx="473.62" cy="141.95" r="1.4" fill="#9b9b9b"/>
<circle cx="443.02" cy="144.10" r="1.4" fill="#9b9b9b"/>
<circle cx="445.88" cy="144.37" r="1.4" fill="#9b9b9b"/>
<circle cx="448.92" cy="144.70" r="1.4" fill="#9b9b9b"/>
<circle cx="452.30" cy="145.06" r="1.4" fill="#9b9b9b"/>
<circle cx="455.29" cy="145.66" r="1.4" fill="#9b9b9b"/>
<circle cx="458.47" cy="145.43" r="1.4" fill="#9b9b9b"/>
<circle cx="461.71" cy="145.58" r="1.4" fill="#9b9b9b"/>
<circle cx="464.55" cy="145.35" r="1.4" fill="#9b9b9b"/>
<circle cx="467.65" cy="145.40" r="1.4" fill="#9b9b9b"/>
<circle cx="470.71" cy="144.58" r="1.4" fill="#9b9b9b"/>
<circle cx="473.62" cy="144.32" r="1.4" fill="#9b9b9b"/>
<circle cx="477.29" cy="144.00" r="1.4" fill="#9b9b9b"/>
<circle cx="443.67" cy="146.67" r="1.4" fill="#9b9b9b"/>
<circle cx="447.04" cy="147.37" r="1.4" fill="#9b9b9b"/>
<circle cx="450.32" cy="147.61" r="1.4" fill="#9b9b9b"/>
<circle cx="453.23" cy="148.06" r="1.4" fill="#9b9b9b"/>
<circle cx="456.59" cy="148.19" r="1.4" fill="#9b9b9b"/>
<circle cx="460.05" cy="148.41" r="1.4" fill="#9b9b9b"/>
<circle cx="463.38" cy="148.06" r="1.4" fill="#9b9b9b"/>
<circle cx="466.32" cy="147.87" r="1.4" fill="#9b9b9b"/>
<circle cx="469.82" cy="147.37" r="1.4" fill="#9b9b9b"/>
<circle cx="472.91" cy="147.18" r="1.4" fill="#9b9b9b"/>
<circle cx="476.51" cy="146.36" r="1.4" fill="#9b9b9b"/>
<circle cx="443.12" cy="149.08" r="1.4" fill="#9b9b9b"/>
<circle cx="445.88" cy="149.40" r="1.4" fill="#9b9b9b"/>
<circle cx="449.00" cy="150.25" r="1.4" fill="#9b9b9b"/>
<circle cx="452.12" cy="149.99" r="1.4" fill="#9b9b9b"/>
<circle cx="455.17" cy="150.52" r="1.4" fill="#9b9b9b"/>
<circle cx="458.76" cy="151.04" r="1.4" fill="#9b9b9b"/>
<circle cx="461.49" cy="150.72" r="1.4" fill="#9b9b9b"/>
<circle cx="464.91" cy="150.78" r="1.4" fill="#9b9b9b"/>
<circle cx="467.48" cy="150.67" r="1.4" fill="#9b9b9b"/>
<circle cx="471.09" cy="149.93" r="1.4" fill="#9b9b9b"/>
<circle cx="473.97" cy="149.17" r="1.4" fill="#9b9b9b"/>
<circle cx="477.19" cy="148.90" r="1.4" fill="#9b9b9b"/>
<circle cx="443.53" cy="152.17" r="1.4" fill="#9b9b9b"/>
<circle cx="446.49" cy="151.82" r="1.4" fill="#9b9b9b"/>
<circle cx="450.34" cy="152.54" r="1.4" fill="#9b9b9b"/>
<circle cx="453.52" cy="152.80" r="1.4" fill="#9b9b9b"/>
<circle cx="456.54" cy="153.33" r="1.4" fill="#9b9b9b"/>
<circle cx="459.87" cy="153.96" r="1.4" fill="#9b9b9b"/>
<circle cx="463.49" cy="153.30" r="1.4" fill="#9b9b9b"/>
<circle cx="466.80" cy="153.00" r="1.4" fill="#9b9b9b"/>
<circle cx="469.66" cy="152.63" r="1.4" fill="#9b9b9b"/>
<circle cx="473.46" cy="152.17" r="1.4" fill="#9b9b9b"/>
<circle cx="476.83" cy="151.87" r="1.4" fill="#9b9b9b"/>
<circle cx="442.89" cy="153.96" r="1.4" fill="#9b9b9b"/>
<circle cx="446.22" cy="154.95" r="1.4" fill="#9b9b9b"/>
<circle cx="449.30" cy="155.15" r="1.4" fill="#9b9b9b"/>
<circle cx="452.40" cy="155.77" r="1.4" fill="#9b9b9b"/>
<circle cx="455.41" cy="155.88" r="1.4" fill="#9b9b9b"/>
<circle cx="458.33" cy="156.35" r="1.4" fill="#9b9b9b"/>
<circle cx="461.63" cy="156.35" r="1.4" fill="#9b9b9b"/>
<circle cx="464.62" cy="156.07" r="1.4" fill="#9b9b9b"/>
<circle cx="467.75" cy="155.09" r="1.4" fill="#9b9b9b"/>
<circle cx="470.92" cy="155.39" r="1.4" fill="#9b9b9b"/>
<circle cx="473.83" cy="154.85" r="1.4" fill="#9b9b9b"/>
<circle cx="477.15" cy="154.25" r="1.4" fill="#9b9b9b"/>
<circle cx="444.26" cy="156.74" r="1.4" fill="#9b9b9b"/>
<circle cx="447.52" cy="157.77" r="1.4" fill="#9b9b9b"/>
<circle cx="450.13" cy="157.56" r="1.4" fill="#9b9b9b"/>
<circle cx="453.53" cy="158.55" r="1.4" fill="#9b9b9b"/>
<circle cx="456.72" cy="158.43" r="1.4" fill="#9b9b9b"/>
<circle cx="459.76" cy="159.13" r="1.4" fill="#9b9b9b"/>
<circle cx="463.31" cy="158.61" r="1.4" fill="#9b9b9b"/>
<circle cx="466.06" cy="158.41" r="1.4" fill="#9b9b9b"/>
<circle cx="469.55" cy="158.10" r="1.4" fill="#9b9b9b"/>
<circle cx="472.84" cy="157.41" r="1.4" fill="#9b9b9b"/>
<circle cx="476.27" cy="156.90" r="1.4" fill="#9b9b9b"/>
<circle cx="446.03" cy="159.59" r="1.4" fill="#9b9b9b"/>
<circle cx="449.19" cy="159.93" r="1.4" fill="#9b9b9b"/>
<circle cx="452.49" cy="160.89" r="1.4" fill="#9b9b9b"/>
<circle cx="455.42" cy="160.65" r="1.4" fill="#9b9b9b"/>
<circle cx="458.23" cy="161.63" r="1.4" fill="#9b9b9b"/>
<circle cx="461.70" cy="161.25" r="1.4" fill="#9b9b9b"/>
<circle cx="464.63" cy="161.13" r="1.4" fill="#9b9b9b"/>
<circle cx="467.90" cy="160.68" r="1.4" fill="#9b9b9b"/>
<circle cx="471.00" cy="160.08" r="1.4" fill="#9b9b9b"/>
<circle cx="474.14" cy="159.88" r="1.4" fill="#9b9b9b"/>
<circle cx="451.89" cy="162.55" r="1.4" fill="#9b9b9b"/>
<circle cx="455.50" cy="162.87" r="1.4" fill="#9b9b9b"/>
<circle cx="458.15" cy="163.06" r="1.4" fill="#9b9b9b"/>
<circle cx="461.85" cy="162.92" r="1.4" fill="#9b9b9b"/>
<circle cx="464.62" cy="163.31" r="1.4" fill="#9b9b9b"/>
<circle cx="467.79" cy="162.35" r="1.4" fill="#9b9b9b"/>
<rect x="441.40" y="144.23" width="37.00" height="20.07" fill="none" stroke="#9b9b9b" stroke-width="1.4"/>
<circle cx="513.81" cy="78.55" r="1.4" fill="#000"/>
<circle cx="513.51" cy="85.18" r="1.4" fill="#000"/>
<circle cx="515.71" cy="86.99" r="1.4" fill="#000"/>
<circle cx="511.57" cy="91.20" r="1.4" fill="#000"/>
<circle cx="515.83" cy="91.26" r="1.4" fill="#000"/>
<circle cx="512.28" cy="94.14" r="1.4" fill="#000"/>
<circle cx="515.50" cy="93.76" r="1.4" fill="#000"/>
<circle cx="513.71" cy="99.59" r="1.4" fill="#000"/>
<circle cx="513.10" cy="103.68" r="1.4" fill="#000"/>
<circle cx="515.88" cy="105.74" r="1.4" fill="#000"/>
<circle cx="509.11" cy="108.56" r="1.4" fill="#000"/>
<circle cx="513.54" cy="109.13" r="1.4" fill="#000"/>
<circle cx="518.80" cy="108.40" r="1.4" fill="#000"/>
<circle cx="511.12" cy="111.14" r="1.4" fill="#000"/>
<circle cx="513.61" cy="111.38" r="1.4" fill="#000"/>
<circle cx="516.90" cy="111.16" r="1.4" fill="#000"/>
<circle cx="503.61" cy="114.12" r="1.4" fill="#000"/>
<circle cx="507.27" cy="113.99" r="1.4" fill="#000"/>
<circle cx="510.51" cy="114.58" r="1.4" fill="#000"/>
<circle cx="513.60" cy="114.98" r="1.4" fill="#000"/>
<circle cx="517.41" cy="114.74" r="1.4" fill="#000"/>
<circle cx="520.61" cy="113.93" r="1.4" fill="#000"/>
<circle cx="523.82" cy="113.66" r="1.4" fill="#000"/>
<circle cx="510.12" cy="117.80" r="1.4" fill="#000"/>
<circle cx="513.72" cy="118.81" r="1.4" fill="#000"/>
<circle cx="517.48" cy="118.21" r="1.4" fill="#000"/>
<circle cx="505.83" cy="122.37" r="1.4" fill="#000"/>
<circle cx="508.84" cy="122.68" r="1.4" fill="#000"/>
<circle cx="512.09" cy="122.71" r="1.4" fill="#000"/>
<circle cx="515.35" cy="123.19" r="1.4" fill="#000"/>
<circle cx="518.92" cy="122.42" r="1.4" fill="#000"/>
<circle cx="521.73" cy="122.36" r="1.4" fill="#000"/>
<circle cx="512.01" cy="126.61" r="1.4" fill="#000"/>
<circle cx="515.72" cy="126.45" r="1.4" fill="#000"/>
<circle cx="508.09" cy="130.08" r="1.4" fill="#000"/>
<circle cx="510.51" cy="129.93" r="1.4" fill="#000"/>
<circle cx="513.89" cy="130.73" r="1.4" fill="#000"/>
<circle cx="516.80" cy="129.93" r="1.4" fill="#000"/>
<circle cx="519.94" cy="129.44" r="1.4" fill="#000"/>
<circle cx="504.44" cy="132.38" r="1.4" fill="#000"/>
<circle cx="507.57" cy="132.41" r="1.4" fill="#000"/>
<circle cx="510.63" cy="133.02" r="1.4" fill="#000"/>
<circle cx="513.89" cy="133.37" r="1.4" fill="#000"/>
<circle cx="517.05" cy="133.17" r="1.4" fill="#000"/>
<circle cx="519.94" cy="132.39" r="1.4" fill="#000"/>
<circle cx="523.22" cy="132.02" r="1.4" fill="#000"/>
<circle cx="505.03" cy="134.96" r="1.4" fill="#000"/>
<circle cx="508.69" cy="135.52" r="1.4" fill="#000"/>
<circle cx="512.17" cy="135.80" r="1.4" fill="#000"/>
<circle cx="515.56" cy="136.14" r="1.4" fill="#000"/>
<circle cx="518.65" cy="135.06" r="1.4" fill="#000"/>
<circle cx="522.18" cy="135.14" r="1.4" fill="#000"/>
<circle cx="504.31" cy="137.56" r="1.4" fill="#000"/>
<circle cx="507.63" cy="137.64" r="1.4" fill="#000"/>
<circle cx="510.48" cy="137.87" r="1.4" fill="#000"/>
<circle cx="513.74" cy="138.33" r="1.4" fill="#000"/>
<circle cx="517.19" cy="138.45" r="1.4" fill="#000"/>
<circle cx="520.23" cy="138.00" r="1.4" fill="#000"/>
<circle cx="523.15" cy="136.97" r="1.4" fill="#000"/>
<circle cx="501.08" cy="140.94" r="1.4" fill="#000"/>
<circle cx="504.09" cy="141.22" r="1.4" fill="#000"/>
<circle cx="507.19" cy="142.00" r="1.4" fill="#000"/>
<circle cx="510.62" cy="142.31" r="1.4" fill="#000"/>
<circle cx="513.89" cy="142.52" r="1.4" fill="#000"/>
<circle cx="516.78" cy="142.10" r="1.4" fill="#000"/>
<circle cx="520.63" cy="142.04" r="1.4" fill="#000"/>
<circle cx="523.45" cy="141.60" r="1.4" fill="#000"/>
<circle cx="526.99" cy="141.05" r="1.4" fill="#000"/>
<circle cx="502.50" cy="143.77" r="1.4" fill="#000"/>
<circle cx="505.89" cy="144.18" r="1.4" fill="#000"/>
<circle cx="509.20" cy="144.70" r="1.4" fill="#000"/>
<circle cx="512.18" cy="145.09" r="1.4" fill="#000"/>
<circle cx="515.78" cy="145.57" r="1.4" fill="#000"/>
<circle cx="518.96" cy="145.07" r="1.4" fill="#000"/>
<circle cx="522.19" cy="144.43" r="1.4" fill="#000"/>
<circle cx="525.60" cy="144.03" r="1.4" fill="#000"/>
<circle cx="502.72" cy="146.90" r="1.4" fill="#000"/>
<circle cx="505.64" cy="147.28" r="1.4" fill="#000"/>
<circle cx="509.22" cy="147.77" r="1.4" fill="#000"/>
<circle cx="512.33" cy="147.67" r="1.4" fill="#000"/>
<circle cx="515.46" cy="148.04" r="1.4" fill="#000"/>
<circle cx="518.46" cy="147.74" r="1.4" fill="#000"/>
<circle cx="521.57" cy="146.91" r="1.4" fill="#000"/>
<circle cx="524.79" cy="146.51" r="1.4" fill="#000"/>
<circle cx="501.56" cy="150.21" r="1.4" fill="#000"/>
<circle cx="504.63" cy="150.48" r="1.4" fill="#000"/>
<circle cx="507.66" cy="151.13" r="1.4" fill="#000"/>
<circle cx="510.76" cy="150.79" r="1.4" fill="#000"/>
<circle cx="513.92" cy="151.12" r="1.4" fill="#000"/>
<circle cx="516.92" cy="151.52" r="1.4" fill="#000"/>
<circle cx="519.71" cy="151.10" r="1.4" fill="#000"/>
<circle cx="522.94" cy="150.75" r="1.4" fill="#000"/>
<circle cx="526.16" cy="150.27" r="1.4" fill="#000"/>
<circle cx="504.04" cy="153.27" r="1.4" fill="#000"/>
<circle cx="507.64" cy="153.37" r="1.4" fill="#000"/>
<circle cx="510.37" cy="154.32" r="1.4" fill="#000"/>
<circle cx="513.63" cy="154.60" r="1.4" fill="#000"/>
<circle cx="516.71" cy="154.44" r="1.4" fill="#000"/>
<circle cx="520.41" cy="153.81" r="1.4" fill="#000"/>
<circle cx="523.42" cy="153.39" r="1.4" fill="#000"/>
<circle cx="506.94" cy="156.41" r="1.4" fill="#000"/>
<circle cx="510.11" cy="156.84" r="1.4" fill="#000"/>
<circle cx="513.80" cy="157.33" r="1.4" fill="#000"/>
<circle cx="517.44" cy="156.91" r="1.4" fill="#000"/>
<circle cx="521.12" cy="156.35" r="1.4" fill="#000"/>
<circle cx="509.56" cy="158.64" r="1.4" fill="#000"/>
<circle cx="514.02" cy="159.33" r="1.4" fill="#000"/>
<circle cx="518.28" cy="158.74" r="1.4" fill="#000"/>
<circle cx="512.01" cy="161.47" r="1.4" fill="#000"/>
<circle cx="515.78" cy="161.59" r="1.4" fill="#000"/>
<circle cx="513.71" cy="163.74" r="1.4" fill="#000"/>
<rect x="495.80" y="133.38" width="36.60" height="30.92" fill="none" stroke="#000" stroke-width="1.7"/>
<text x="459.90" y="173.30" font-size="8.58" font-weight="bold" text-anchor="middle" textLength="28" lengthAdjust="spacingAndGlyphs">Control</text>
<text x="512.80" y="173.30" font-size="8.58" font-weight="bold" text-anchor="middle" textLength="14.8" lengthAdjust="spacingAndGlyphs">PCa</text>
<text x="486.60" y="41.10" font-size="10.56" font-weight="bold" text-anchor="middle" textLength="37.4" lengthAdjust="spacingAndGlyphs">miR-107</text>
<text x="514.10" y="77.40" font-size="14" font-weight="bold" text-anchor="middle" textLength="21.7" lengthAdjust="spacingAndGlyphs">****</text>
<text transform="translate(393.80 113.70) rotate(-90)" font-size="8.88" font-weight="bold" text-anchor="middle" textLength="58.3" lengthAdjust="spacingAndGlyphs">Relative Levels</text>
<text transform="translate(403.60 113.85) rotate(-90)" font-size="9.17" font-weight="bold" text-anchor="middle" textLength="116.5" lengthAdjust="spacingAndGlyphs">(Normalized by miRNA 16-5p)</text>
<line x1="587.70" y1="53.95" x2="587.70" y2="160.55" stroke="#000" stroke-width="1.5"/>
<line x1="584.30" y1="159.80" x2="587.70" y2="159.80" stroke="#000" stroke-width="1.5"/>
<text x="583.00" y="162.54" font-size="8.36" font-weight="bold" text-anchor="end" textLength="4.1" lengthAdjust="spacingAndGlyphs">0</text>
<line x1="584.30" y1="107.25" x2="587.70" y2="107.25" stroke="#000" stroke-width="1.5"/>
<text x="583.00" y="109.99" font-size="8.36" font-weight="bold" text-anchor="end" textLength="8.2" lengthAdjust="spacingAndGlyphs">50</text>
<line x1="584.30" y1="54.70" x2="587.70" y2="54.70" stroke="#000" stroke-width="1.5"/>
<text x="583.00" y="57.44" font-size="8.36" font-weight="bold" text-anchor="end" textLength="12.3" lengthAdjust="spacingAndGlyphs">100</text>
<line x1="586.95" y1="159.80" x2="720.85" y2="159.80" stroke="#000" stroke-width="1.5"/>
<line x1="587.70" y1="159.80" x2="587.70" y2="163.20" stroke="#000" stroke-width="1.5"/>
<text x="587.70" y="172.60" font-size="8.36" font-weight="bold" text-anchor="middle" textLength="4.1" lengthAdjust="spacingAndGlyphs">0</text>
<line x1="653.90" y1="159.80" x2="653.90" y2="163.20" stroke="#000" stroke-width="1.5"/>
<text x="653.90" y="172.60" font-size="8.36" font-weight="bold" text-anchor="middle" textLength="8.2" lengthAdjust="spacingAndGlyphs">50</text>
<line x1="720.10" y1="159.80" x2="720.10" y2="163.20" stroke="#000" stroke-width="1.5"/>
<text x="720.10" y="172.60" font-size="8.36" font-weight="bold" text-anchor="middle" textLength="12.3" lengthAdjust="spacingAndGlyphs">100</text>
<line x1="587.70" y1="159.80" x2="720.10" y2="54.70" stroke="#000" stroke-width="0.8"/>
<polyline points="587.71,159.65 587.71,157.62 588.42,157.62 588.42,155.59 589.14,155.59 589.14,153.56 591.17,153.56 591.17,150.52 593.20,150.52 593.20,148.49 596.24,148.49 596.24,146.96 598.27,146.96 598.27,145.44 600.30,145.44 600.30,144.43 602.33,144.43 602.33,143.41 604.36,143.41 604.36,141.89 606.39,141.89 606.39,140.37 608.42,140.37 608.42,138.34 610.45,138.34 610.45,136.31 612.48,136.31 612.48,134.78 614.51,134.78 614.51,133.26 616.54,133.26 616.54,132.75 618.57,132.75 618.57,132.25 620.60,132.25 620.60,130.72 622.63,130.72 622.63,129.20 624.66,129.20 624.66,127.68 626.69,127.68 626.69,126.16 628.72,126.16 628.72,124.13 630.75,124.13 630.75,122.10 632.78,122.10 632.78,120.07 634.30,120.07 634.30,118.04 635.83,118.04 635.83,114.99 638.87,114.99 638.87,112.45 640.90,112.45 640.90,109.92 642.93,109.92 642.93,108.90 644.96,108.90 644.96,108.90 646.99,108.90 646.99,108.90 649.02,108.90 649.02,106.87 652.07,106.87 652.07,104.84 655.11,104.84 655.11,103.32 657.14,103.32 657.14,101.80 659.17,101.80 659.17,100.78 661.20,100.78 661.20,99.77 663.23,99.77 663.23,98.24 665.26,98.24 665.26,96.72 667.29,96.72 667.29,95.71 669.32,95.71 669.32,94.69 671.35,94.69 671.35,93.17 673.38,93.17 673.38,91.65 675.41,91.65 675.41,89.62 676.93,89.62 676.93,87.59 678.46,87.59 678.46,85.56 679.98,85.56 679.98,83.53 681.50,83.53 681.50,82.51 683.53,82.51 683.53,81.50 685.56,81.50 685.56,78.96 687.59,78.96 687.59,76.42 689.62,76.42 689.62,73.38 691.65,73.38 691.65,70.84 693.68,70.84 693.68,68.30 695.71,68.30 695.71,66.27 697.74,66.27 697.74,65.76 699.77,65.76 699.77,65.26 701.80,65.26 701.80,64.24 703.83,64.24 703.83,63.23 705.86,63.23 705.86,62.21 707.89,62.21 707.89,61.20 709.92,61.20 709.92,60.18 711.95,60.18 711.95,59.17 713.98,59.17 713.98,57.68 716.01,57.68 716.01,56.19 718.04,56.19 718.04,54.70 720.07,54.70" fill="none" stroke="#aaa" stroke-width="1.5" stroke-linejoin="miter"/>
<polyline points="587.71,159.65 587.71,157.28 587.71,157.28 587.71,154.92 587.71,154.92 587.71,152.55 587.71,152.55 587.71,151.53 590.15,151.53 590.15,148.49 591.17,148.49 591.17,146.46 593.20,146.46 593.20,143.41 594.21,143.41 594.21,140.37 595.23,140.37 595.23,137.83 595.73,137.83 595.73,135.29 596.24,135.29 596.24,133.26 598.27,133.26 598.27,131.23 600.30,131.23 600.30,129.20 602.33,129.20 602.33,127.17 603.35,127.17 603.35,124.13 605.38,124.13 605.38,123.11 606.39,123.11 606.39,122.10 608.42,122.10 608.42,120.07 610.45,120.07 610.45,117.02 611.47,117.02 611.47,114.99 613.50,114.99 613.50,113.98 615.53,113.98 615.53,112.96 616.54,112.96 616.54,110.93 619.59,110.93 619.59,109.92 622.63,109.92 622.63,107.89 624.66,107.89 624.66,105.86 626.69,105.86 626.69,103.83 627.71,103.83 627.71,102.81 630.75,102.81 630.75,101.80 633.80,101.80 633.80,99.77 636.84,99.77 636.84,97.74 638.87,97.74 638.87,95.71 640.90,95.71 640.90,92.66 642.93,92.66 642.93,90.63 643.44,90.63 643.44,88.60 643.95,88.60 643.95,87.59 646.99,87.59 646.99,85.56 650.04,85.56 650.04,83.53 652.07,83.53 652.07,81.50 655.11,81.50 655.11,80.48 658.16,80.48 658.16,80.48 661.20,80.48 661.20,78.45 662.22,78.45 662.22,76.42 663.23,76.42 663.23,74.39 663.74,74.39 663.74,72.36 664.25,72.36 664.25,70.33 665.26,70.33 665.26,70.33 668.31,70.33 668.31,69.32 670.34,69.32 670.34,68.30 673.38,68.30 673.38,66.27 675.41,66.27 675.41,65.26 678.46,65.26 678.46,63.23 681.50,63.23 681.50,62.72 683.53,62.72 683.53,62.21 685.56,62.21 685.56,61.70 687.59,61.70 687.59,61.20 689.62,61.20 689.62,60.18 692.67,60.18 692.67,58.15 695.71,58.15 695.71,57.95 697.74,57.95 697.74,57.74 699.77,57.74 699.77,57.44 701.80,57.44 701.80,57.14 703.83,57.14 703.83,57.00 705.86,57.00 705.86,56.86 707.89,56.86 707.89,56.73 709.92,56.73 709.92,56.53 711.95,56.53 711.95,56.32 713.98,56.32 713.98,56.12 716.01,56.12 716.01,55.41 718.04,55.41 718.04,54.70 720.07,54.70" fill="none" stroke="#000" stroke-width="1.7" stroke-linejoin="miter"/>
<line x1="679.70" y1="104.90" x2="691.40" y2="104.90" stroke="#000" stroke-width="1.0"/>
<circle cx="685.50" cy="104.90" r="0.9" fill="#000"/>
<text x="697.90" y="107.60" font-size="8.14" font-weight="bold" textLength="27" lengthAdjust="spacingAndGlyphs">mIR-107</text>
<text x="678.00" y="116.20" font-size="7.2">AUC = 0.66</text>
<text x="678.00" y="124.40" font-size="7.2">p value &lt; 0.001</text>
<line x1="679.70" y1="134.20" x2="691.40" y2="134.20" stroke="#aaa" stroke-width="1.0"/>
<circle cx="685.50" cy="134.20" r="0.9" fill="#aaa"/>
<text x="697.90" y="137.00" font-size="8.14" font-weight="bold" textLength="14.6" lengthAdjust="spacingAndGlyphs">PSA</text>
<text x="678.00" y="145.00" font-size="7.2">AUC = 0.51</text>
<text x="678.00" y="153.40" font-size="7.2">p value = 0.74</text>
<text x="616.20" y="41.30" font-size="10.78" font-weight="bold" textLength="75.9" lengthAdjust="spacingAndGlyphs">miR-107 <tspan font-style="italic">vs</tspan> PSA</text>
<text transform="translate(557.50 107.50) rotate(-90)" font-size="9.02" font-weight="bold" text-anchor="middle" textLength="50.58" lengthAdjust="spacingAndGlyphs">Sensitivity %</text>
<text x="654.70" y="186.20" font-size="9.24" font-weight="bold" text-anchor="middle" textLength="79" lengthAdjust="spacingAndGlyphs">100% - Specificity%</text>
<line x1="60.30" y1="240.00" x2="60.30" y2="337.70" stroke="#000" stroke-width="1.8"/>
<line x1="57.30" y1="336.80" x2="60.30" y2="336.80" stroke="#000" stroke-width="1.8"/>
<text x="57.00" y="339.54" font-size="8.36" font-weight="bold" text-anchor="end" textLength="9.82" lengthAdjust="spacingAndGlyphs">0.0</text>
<line x1="57.30" y1="304.83" x2="60.30" y2="304.83" stroke="#000" stroke-width="1.8"/>
<text x="57.00" y="307.57" font-size="8.36" font-weight="bold" text-anchor="end" textLength="9.82" lengthAdjust="spacingAndGlyphs">0.1</text>
<line x1="57.30" y1="272.87" x2="60.30" y2="272.87" stroke="#000" stroke-width="1.8"/>
<text x="57.00" y="275.60" font-size="8.36" font-weight="bold" text-anchor="end" textLength="9.82" lengthAdjust="spacingAndGlyphs">0.2</text>
<line x1="57.30" y1="240.90" x2="60.30" y2="240.90" stroke="#000" stroke-width="1.8"/>
<text x="57.00" y="243.64" font-size="8.36" font-weight="bold" text-anchor="end" textLength="9.82" lengthAdjust="spacingAndGlyphs">0.3</text>
<line x1="59.40" y1="336.80" x2="150.30" y2="336.80" stroke="#000" stroke-width="1.8"/>
<circle cx="75.22" cy="257.61" r="1.3" fill="#cbcbcb"/>
<circle cx="74.85" cy="282.11" r="1.3" fill="#cbcbcb"/>
<circle cx="67.42" cy="287.69" r="1.3" fill="#cbcbcb"/>
<circle cx="69.68" cy="288.44" r="1.3" fill="#cbcbcb"/>
<circle cx="72.85" cy="288.68" r="1.3" fill="#cbcbcb"/>
<circle cx="74.81" cy="289.61" r="1.3" fill="#cbcbcb"/>
<circle cx="77.83" cy="288.95" r="1.3" fill="#cbcbcb"/>
<circle cx="80.24" cy="288.78" r="1.3" fill="#cbcbcb"/>
<circle cx="82.50" cy="287.92" r="1.3" fill="#cbcbcb"/>
<circle cx="72.19" cy="293.72" r="1.3" fill="#cbcbcb"/>
<circle cx="74.84" cy="293.84" r="1.3" fill="#cbcbcb"/>
<circle cx="77.19" cy="293.87" r="1.3" fill="#cbcbcb"/>
<circle cx="69.26" cy="298.15" r="1.3" fill="#cbcbcb"/>
<circle cx="71.68" cy="298.02" r="1.3" fill="#cbcbcb"/>
<circle cx="73.46" cy="298.66" r="1.3" fill="#cbcbcb"/>
<circle cx="75.85" cy="298.55" r="1.3" fill="#cbcbcb"/>
<circle cx="78.56" cy="298.21" r="1.3" fill="#cbcbcb"/>
<circle cx="80.88" cy="297.81" r="1.3" fill="#cbcbcb"/>
<circle cx="69.37" cy="302.77" r="1.3" fill="#cbcbcb"/>
<circle cx="72.39" cy="302.53" r="1.3" fill="#cbcbcb"/>
<circle cx="75.21" cy="302.96" r="1.3" fill="#cbcbcb"/>
<circle cx="77.62" cy="302.59" r="1.3" fill="#cbcbcb"/>
<circle cx="80.50" cy="302.77" r="1.3" fill="#cbcbcb"/>
<circle cx="67.07" cy="306.18" r="1.3" fill="#cbcbcb"/>
<circle cx="70.14" cy="306.05" r="1.3" fill="#cbcbcb"/>
<circle cx="72.66" cy="306.30" r="1.3" fill="#cbcbcb"/>
<circle cx="75.32" cy="306.71" r="1.3" fill="#cbcbcb"/>
<circle cx="77.89" cy="306.52" r="1.3" fill="#cbcbcb"/>
<circle cx="79.98" cy="306.43" r="1.3" fill="#cbcbcb"/>
<circle cx="82.87" cy="306.35" r="1.3" fill="#cbcbcb"/>
<circle cx="65.47" cy="311.37" r="1.3" fill="#cbcbcb"/>
<circle cx="67.97" cy="311.24" r="1.3" fill="#cbcbcb"/>
<circle cx="70.38" cy="311.34" r="1.3" fill="#cbcbcb"/>
<circle cx="72.54" cy="311.90" r="1.3" fill="#cbcbcb"/>
<circle cx="74.79" cy="312.21" r="1.3" fill="#cbcbcb"/>
<circle cx="77.58" cy="311.73" r="1.3" fill="#cbcbcb"/>
<circle cx="79.90" cy="311.54" r="1.3" fill="#cbcbcb"/>
<circle cx="82.43" cy="311.51" r="1.3" fill="#cbcbcb"/>
<circle cx="84.66" cy="311.58" r="1.3" fill="#cbcbcb"/>
<circle cx="65.26" cy="313.46" r="1.3" fill="#cbcbcb"/>
<circle cx="68.12" cy="313.58" r="1.3" fill="#cbcbcb"/>
<circle cx="70.29" cy="313.55" r="1.3" fill="#cbcbcb"/>
<circle cx="72.95" cy="313.80" r="1.3" fill="#cbcbcb"/>
<circle cx="74.93" cy="313.87" r="1.3" fill="#cbcbcb"/>
<circle cx="77.32" cy="313.46" r="1.3" fill="#cbcbcb"/>
<circle cx="80.05" cy="313.71" r="1.3" fill="#cbcbcb"/>
<circle cx="82.00" cy="313.73" r="1.3" fill="#cbcbcb"/>
<circle cx="84.28" cy="313.58" r="1.3" fill="#cbcbcb"/>
<circle cx="65.26" cy="315.47" r="1.3" fill="#cbcbcb"/>
<circle cx="67.58" cy="315.36" r="1.3" fill="#cbcbcb"/>
<circle cx="70.48" cy="315.87" r="1.3" fill="#cbcbcb"/>
<circle cx="72.64" cy="315.56" r="1.3" fill="#cbcbcb"/>
<circle cx="74.99" cy="315.83" r="1.3" fill="#cbcbcb"/>
<circle cx="77.10" cy="315.85" r="1.3" fill="#cbcbcb"/>
<circle cx="79.60" cy="315.88" r="1.3" fill="#cbcbcb"/>
<circle cx="81.82" cy="315.39" r="1.3" fill="#cbcbcb"/>
<circle cx="84.29" cy="314.89" r="1.3" fill="#cbcbcb"/>
<circle cx="66.30" cy="317.17" r="1.3" fill="#cbcbcb"/>
<circle cx="68.56" cy="317.76" r="1.3" fill="#cbcbcb"/>
<circle cx="71.26" cy="317.66" r="1.3" fill="#cbcbcb"/>
<circle cx="73.60" cy="318.15" r="1.3" fill="#cbcbcb"/>
<circle cx="76.22" cy="318.10" r="1.3" fill="#cbcbcb"/>
<circle cx="79.02" cy="317.76" r="1.3" fill="#cbcbcb"/>
<circle cx="81.56" cy="317.49" r="1.3" fill="#cbcbcb"/>
<circle cx="83.65" cy="317.42" r="1.3" fill="#cbcbcb"/>
<circle cx="65.25" cy="319.12" r="1.3" fill="#cbcbcb"/>
<circle cx="67.67" cy="319.43" r="1.3" fill="#cbcbcb"/>
<circle cx="70.05" cy="319.50" r="1.3" fill="#cbcbcb"/>
<circle cx="72.90" cy="320.08" r="1.3" fill="#cbcbcb"/>
<circle cx="74.91" cy="320.09" r="1.3" fill="#cbcbcb"/>
<circle cx="77.50" cy="319.95" r="1.3" fill="#cbcbcb"/>
<circle cx="80.06" cy="320.02" r="1.3" fill="#cbcbcb"/>
<circle cx="82.27" cy="319.54" r="1.3" fill="#cbcbcb"/>
<circle cx="84.73" cy="319.33" r="1.3" fill="#cbcbcb"/>
<circle cx="66.51" cy="321.31" r="1.3" fill="#cbcbcb"/>
<circle cx="68.91" cy="321.70" r="1.3" fill="#cbcbcb"/>
<circle cx="71.12" cy="321.92" r="1.3" fill="#cbcbcb"/>
<circle cx="73.44" cy="322.10" r="1.3" fill="#cbcbcb"/>
<circle cx="76.27" cy="321.78" r="1.3" fill="#cbcbcb"/>
<circle cx="78.98" cy="321.88" r="1.3" fill="#cbcbcb"/>
<circle cx="81.29" cy="321.36" r="1.3" fill="#cbcbcb"/>
<circle cx="83.82" cy="321.49" r="1.3" fill="#cbcbcb"/>
<circle cx="65.52" cy="323.60" r="1.3" fill="#cbcbcb"/>
<circle cx="67.87" cy="323.67" r="1.3" fill="#cbcbcb"/>
<circle cx="70.07" cy="323.90" r="1.3" fill="#cbcbcb"/>
<circle cx="72.75" cy="324.05" r="1.3" fill="#cbcbcb"/>
<circle cx="75.34" cy="323.98" r="1.3" fill="#cbcbcb"/>
<circle cx="77.69" cy="324.18" r="1.3" fill="#cbcbcb"/>
<circle cx="79.71" cy="323.68" r="1.3" fill="#cbcbcb"/>
<circle cx="81.81" cy="323.46" r="1.3" fill="#cbcbcb"/>
<circle cx="84.32" cy="323.10" r="1.3" fill="#cbcbcb"/>
<circle cx="66.01" cy="325.75" r="1.3" fill="#cbcbcb"/>
<circle cx="68.57" cy="325.83" r="1.3" fill="#cbcbcb"/>
<circle cx="71.03" cy="325.60" r="1.3" fill="#cbcbcb"/>
<circle cx="73.75" cy="326.22" r="1.3" fill="#cbcbcb"/>
<circle cx="76.22" cy="326.13" r="1.3" fill="#cbcbcb"/>
<circle cx="78.74" cy="325.74" r="1.3" fill="#cbcbcb"/>
<circle cx="81.04" cy="326.00" r="1.3" fill="#cbcbcb"/>
<circle cx="83.58" cy="325.66" r="1.3" fill="#cbcbcb"/>
<circle cx="65.38" cy="327.23" r="1.3" fill="#cbcbcb"/>
<circle cx="68.18" cy="327.34" r="1.3" fill="#cbcbcb"/>
<circle cx="70.02" cy="327.73" r="1.3" fill="#cbcbcb"/>
<circle cx="72.32" cy="327.66" r="1.3" fill="#cbcbcb"/>
<circle cx="74.94" cy="328.00" r="1.3" fill="#cbcbcb"/>
<circle cx="77.71" cy="328.08" r="1.3" fill="#cbcbcb"/>
<circle cx="79.57" cy="328.09" r="1.3" fill="#cbcbcb"/>
<circle cx="82.42" cy="327.71" r="1.3" fill="#cbcbcb"/>
<circle cx="84.75" cy="327.16" r="1.3" fill="#cbcbcb"/>
<circle cx="66.45" cy="329.43" r="1.3" fill="#cbcbcb"/>
<circle cx="68.84" cy="329.58" r="1.3" fill="#cbcbcb"/>
<circle cx="70.97" cy="329.90" r="1.3" fill="#cbcbcb"/>
<circle cx="73.98" cy="330.28" r="1.3" fill="#cbcbcb"/>
<circle cx="76.17" cy="330.09" r="1.3" fill="#cbcbcb"/>
<circle cx="78.66" cy="330.21" r="1.3" fill="#cbcbcb"/>
<circle cx="81.19" cy="329.97" r="1.3" fill="#cbcbcb"/>
<circle cx="83.65" cy="329.41" r="1.3" fill="#cbcbcb"/>
<circle cx="65.34" cy="331.13" r="1.3" fill="#cbcbcb"/>
<circle cx="67.57" cy="331.44" r="1.3" fill="#cbcbcb"/>
<circle cx="70.21" cy="331.85" r="1.3" fill="#cbcbcb"/>
<circle cx="72.38" cy="331.68" r="1.3" fill="#cbcbcb"/>
<circle cx="74.74" cy="332.49" r="1.3" fill="#cbcbcb"/>
<circle cx="77.69" cy="331.92" r="1.3" fill="#cbcbcb"/>
<circle cx="79.69" cy="331.55" r="1.3" fill="#cbcbcb"/>
<circle cx="81.79" cy="331.84" r="1.3" fill="#cbcbcb"/>
<circle cx="84.80" cy="331.14" r="1.3" fill="#cbcbcb"/>
<circle cx="66.08" cy="333.63" r="1.3" fill="#cbcbcb"/>
<circle cx="68.57" cy="333.69" r="1.3" fill="#cbcbcb"/>
<circle cx="71.56" cy="334.17" r="1.3" fill="#cbcbcb"/>
<circle cx="73.77" cy="333.80" r="1.3" fill="#cbcbcb"/>
<circle cx="76.18" cy="333.88" r="1.3" fill="#cbcbcb"/>
<circle cx="78.90" cy="334.07" r="1.3" fill="#cbcbcb"/>
<circle cx="81.13" cy="333.48" r="1.3" fill="#cbcbcb"/>
<circle cx="83.67" cy="333.45" r="1.3" fill="#cbcbcb"/>
<circle cx="65.70" cy="335.57" r="1.3" fill="#cbcbcb"/>
<circle cx="67.83" cy="335.51" r="1.3" fill="#cbcbcb"/>
<circle cx="70.16" cy="335.52" r="1.3" fill="#cbcbcb"/>
<circle cx="72.63" cy="336.32" r="1.3" fill="#cbcbcb"/>
<circle cx="75.07" cy="336.24" r="1.3" fill="#cbcbcb"/>
<circle cx="77.59" cy="336.06" r="1.3" fill="#cbcbcb"/>
<circle cx="79.62" cy="335.65" r="1.3" fill="#cbcbcb"/>
<circle cx="82.12" cy="335.90" r="1.3" fill="#cbcbcb"/>
<circle cx="84.25" cy="335.76" r="1.3" fill="#cbcbcb"/>
<rect x="64.40" y="319.60" width="21.40" height="17.20" fill="none" stroke="#cbcbcb" stroke-width="1.2"/>
<circle cx="105.39" cy="274.63" r="1.3" fill="#9b9b9b"/>
<circle cx="104.41" cy="278.81" r="1.3" fill="#9b9b9b"/>
<circle cx="106.59" cy="279.24" r="1.3" fill="#9b9b9b"/>
<circle cx="103.88" cy="282.62" r="1.3" fill="#9b9b9b"/>
<circle cx="105.24" cy="288.93" r="1.3" fill="#9b9b9b"/>
<circle cx="99.50" cy="290.44" r="1.3" fill="#9b9b9b"/>
<circle cx="102.09" cy="290.91" r="1.3" fill="#9b9b9b"/>
<circle cx="104.45" cy="291.98" r="1.3" fill="#9b9b9b"/>
<circle cx="106.55" cy="291.43" r="1.3" fill="#9b9b9b"/>
<circle cx="109.20" cy="291.49" r="1.3" fill="#9b9b9b"/>
<circle cx="111.49" cy="290.84" r="1.3" fill="#9b9b9b"/>
<circle cx="99.70" cy="295.91" r="1.3" fill="#9b9b9b"/>
<circle cx="102.63" cy="296.75" r="1.3" fill="#9b9b9b"/>
<circle cx="105.76" cy="296.72" r="1.3" fill="#9b9b9b"/>
<circle cx="108.36" cy="296.31" r="1.3" fill="#9b9b9b"/>
<circle cx="111.17" cy="296.19" r="1.3" fill="#9b9b9b"/>
<circle cx="99.97" cy="303.07" r="1.3" fill="#9b9b9b"/>
<circle cx="102.63" cy="303.53" r="1.3" fill="#9b9b9b"/>
<circle cx="105.34" cy="304.33" r="1.3" fill="#9b9b9b"/>
<circle cx="108.30" cy="303.84" r="1.3" fill="#9b9b9b"/>
<circle cx="111.57" cy="303.00" r="1.3" fill="#9b9b9b"/>
<circle cx="104.76" cy="308.60" r="1.3" fill="#9b9b9b"/>
<circle cx="106.78" cy="309.13" r="1.3" fill="#9b9b9b"/>
<circle cx="100.32" cy="310.99" r="1.3" fill="#9b9b9b"/>
<circle cx="102.96" cy="311.74" r="1.3" fill="#9b9b9b"/>
<circle cx="105.63" cy="311.45" r="1.3" fill="#9b9b9b"/>
<circle cx="108.33" cy="311.76" r="1.3" fill="#9b9b9b"/>
<circle cx="110.33" cy="311.06" r="1.3" fill="#9b9b9b"/>
<circle cx="96.71" cy="313.29" r="1.3" fill="#9b9b9b"/>
<circle cx="99.80" cy="313.18" r="1.3" fill="#9b9b9b"/>
<circle cx="102.70" cy="313.56" r="1.3" fill="#9b9b9b"/>
<circle cx="105.59" cy="314.16" r="1.3" fill="#9b9b9b"/>
<circle cx="108.40" cy="313.72" r="1.3" fill="#9b9b9b"/>
<circle cx="111.13" cy="313.13" r="1.3" fill="#9b9b9b"/>
<circle cx="114.29" cy="313.39" r="1.3" fill="#9b9b9b"/>
<circle cx="98.02" cy="315.64" r="1.3" fill="#9b9b9b"/>
<circle cx="101.09" cy="316.01" r="1.3" fill="#9b9b9b"/>
<circle cx="104.02" cy="315.98" r="1.3" fill="#9b9b9b"/>
<circle cx="107.05" cy="315.84" r="1.3" fill="#9b9b9b"/>
<circle cx="110.20" cy="315.62" r="1.3" fill="#9b9b9b"/>
<circle cx="113.35" cy="315.68" r="1.3" fill="#9b9b9b"/>
<circle cx="96.69" cy="317.88" r="1.3" fill="#9b9b9b"/>
<circle cx="100.05" cy="318.09" r="1.3" fill="#9b9b9b"/>
<circle cx="102.66" cy="318.48" r="1.3" fill="#9b9b9b"/>
<circle cx="105.52" cy="318.48" r="1.3" fill="#9b9b9b"/>
<circle cx="108.65" cy="317.98" r="1.3" fill="#9b9b9b"/>
<circle cx="111.00" cy="318.27" r="1.3" fill="#9b9b9b"/>
<circle cx="113.80" cy="317.97" r="1.3" fill="#9b9b9b"/>
<circle cx="98.16" cy="319.76" r="1.3" fill="#9b9b9b"/>
<circle cx="100.79" cy="320.57" r="1.3" fill="#9b9b9b"/>
<circle cx="103.93" cy="320.97" r="1.3" fill="#9b9b9b"/>
<circle cx="106.86" cy="320.43" r="1.3" fill="#9b9b9b"/>
<circle cx="110.19" cy="320.08" r="1.3" fill="#9b9b9b"/>
<circle cx="113.14" cy="319.90" r="1.3" fill="#9b9b9b"/>
<circle cx="96.74" cy="322.22" r="1.3" fill="#9b9b9b"/>
<circle cx="100.16" cy="322.59" r="1.3" fill="#9b9b9b"/>
<circle cx="102.99" cy="322.60" r="1.3" fill="#9b9b9b"/>
<circle cx="105.55" cy="322.83" r="1.3" fill="#9b9b9b"/>
<circle cx="108.68" cy="322.59" r="1.3" fill="#9b9b9b"/>
<circle cx="111.43" cy="322.57" r="1.3" fill="#9b9b9b"/>
<circle cx="113.96" cy="322.40" r="1.3" fill="#9b9b9b"/>
<circle cx="98.26" cy="324.48" r="1.3" fill="#9b9b9b"/>
<circle cx="101.20" cy="325.22" r="1.3" fill="#9b9b9b"/>
<circle cx="103.68" cy="325.46" r="1.3" fill="#9b9b9b"/>
<circle cx="107.04" cy="325.05" r="1.3" fill="#9b9b9b"/>
<circle cx="110.06" cy="324.65" r="1.3" fill="#9b9b9b"/>
<circle cx="112.90" cy="324.96" r="1.3" fill="#9b9b9b"/>
<circle cx="96.79" cy="326.98" r="1.3" fill="#9b9b9b"/>
<circle cx="100.11" cy="327.34" r="1.3" fill="#9b9b9b"/>
<circle cx="102.63" cy="327.64" r="1.3" fill="#9b9b9b"/>
<circle cx="105.21" cy="327.59" r="1.3" fill="#9b9b9b"/>
<circle cx="108.62" cy="327.66" r="1.3" fill="#9b9b9b"/>
<circle cx="111.35" cy="327.17" r="1.3" fill="#9b9b9b"/>
<circle cx="114.18" cy="326.66" r="1.3" fill="#9b9b9b"/>
<circle cx="100.16" cy="329.27" r="1.3" fill="#9b9b9b"/>
<circle cx="102.67" cy="329.38" r="1.3" fill="#9b9b9b"/>
<circle cx="105.18" cy="329.82" r="1.3" fill="#9b9b9b"/>
<circle cx="108.54" cy="329.56" r="1.3" fill="#9b9b9b"/>
<circle cx="110.73" cy="329.31" r="1.3" fill="#9b9b9b"/>
<circle cx="105.69" cy="334.12" r="1.3" fill="#9b9b9b"/>
<rect x="95.30" y="313.00" width="20.40" height="23.80" fill="none" stroke="#9b9b9b" stroke-width="1.4"/>
<circle cx="136.28" cy="252.19" r="1.3" fill="#000"/>
<circle cx="128.41" cy="276.18" r="1.3" fill="#000"/>
<circle cx="132.56" cy="277.10" r="1.3" fill="#000"/>
<circle cx="136.22" cy="278.15" r="1.3" fill="#000"/>
<circle cx="139.68" cy="277.45" r="1.3" fill="#000"/>
<circle cx="143.24" cy="275.85" r="1.3" fill="#000"/>
<circle cx="135.96" cy="283.63" r="1.3" fill="#000"/>
<circle cx="135.54" cy="286.20" r="1.3" fill="#000"/>
<circle cx="135.40" cy="289.15" r="1.3" fill="#000"/>
<circle cx="137.34" cy="291.49" r="1.3" fill="#000"/>
<circle cx="129.76" cy="293.58" r="1.3" fill="#000"/>
<circle cx="132.68" cy="294.22" r="1.3" fill="#000"/>
<circle cx="136.01" cy="294.17" r="1.3" fill="#000"/>
<circle cx="139.29" cy="294.12" r="1.3" fill="#000"/>
<circle cx="142.01" cy="293.87" r="1.3" fill="#000"/>
<circle cx="127.32" cy="296.48" r="1.3" fill="#000"/>
<circle cx="130.12" cy="296.48" r="1.3" fill="#000"/>
<circle cx="132.96" cy="297.29" r="1.3" fill="#000"/>
<circle cx="135.65" cy="297.41" r="1.3" fill="#000"/>
<circle cx="138.59" cy="297.39" r="1.3" fill="#000"/>
<circle cx="141.93" cy="296.66" r="1.3" fill="#000"/>
<circle cx="144.74" cy="296.49" r="1.3" fill="#000"/>
<circle cx="130.17" cy="299.88" r="1.3" fill="#000"/>
<circle cx="133.03" cy="299.85" r="1.3" fill="#000"/>
<circle cx="136.26" cy="300.51" r="1.3" fill="#000"/>
<circle cx="139.07" cy="300.04" r="1.3" fill="#000"/>
<circle cx="141.92" cy="299.47" r="1.3" fill="#000"/>
<circle cx="130.76" cy="302.28" r="1.3" fill="#000"/>
<circle cx="134.25" cy="303.02" r="1.3" fill="#000"/>
<circle cx="137.73" cy="303.14" r="1.3" fill="#000"/>
<circle cx="141.10" cy="302.47" r="1.3" fill="#000"/>
<circle cx="126.26" cy="304.48" r="1.3" fill="#000"/>
<circle cx="129.03" cy="304.64" r="1.3" fill="#000"/>
<circle cx="131.65" cy="304.94" r="1.3" fill="#000"/>
<circle cx="134.44" cy="305.66" r="1.3" fill="#000"/>
<circle cx="137.22" cy="305.46" r="1.3" fill="#000"/>
<circle cx="140.18" cy="305.27" r="1.3" fill="#000"/>
<circle cx="143.03" cy="304.43" r="1.3" fill="#000"/>
<circle cx="145.78" cy="304.67" r="1.3" fill="#000"/>
<circle cx="127.25" cy="307.03" r="1.3" fill="#000"/>
<circle cx="130.63" cy="307.10" r="1.3" fill="#000"/>
<circle cx="132.94" cy="307.70" r="1.3" fill="#000"/>
<circle cx="136.10" cy="308.27" r="1.3" fill="#000"/>
<circle cx="138.75" cy="307.71" r="1.3" fill="#000"/>
<circle cx="141.48" cy="307.26" r="1.3" fill="#000"/>
<circle cx="144.76" cy="306.66" r="1.3" fill="#000"/>
<circle cx="127.03" cy="309.50" r="1.3" fill="#000"/>
<circle cx="130.18" cy="309.76" r="1.3" fill="#000"/>
<circle cx="132.91" cy="309.91" r="1.3" fill="#000"/>
<circle cx="135.74" cy="310.27" r="1.3" fill="#000"/>
<circle cx="139.11" cy="310.57" r="1.3" fill="#000"/>
<circle cx="142.02" cy="309.83" r="1.3" fill="#000"/>
<circle cx="144.89" cy="309.78" r="1.3" fill="#000"/>
<circle cx="128.13" cy="312.30" r="1.3" fill="#000"/>
<circle cx="131.21" cy="312.52" r="1.3" fill="#000"/>
<circle cx="134.69" cy="313.19" r="1.3" fill="#000"/>
<circle cx="137.90" cy="312.76" r="1.3" fill="#000"/>
<circle cx="140.98" cy="312.28" r="1.3" fill="#000"/>
<circle cx="143.75" cy="312.46" r="1.3" fill="#000"/>
<circle cx="127.22" cy="314.66" r="1.3" fill="#000"/>
<circle cx="130.09" cy="314.74" r="1.3" fill="#000"/>
<circle cx="133.01" cy="315.65" r="1.3" fill="#000"/>
<circle cx="135.81" cy="315.96" r="1.3" fill="#000"/>
<circle cx="138.90" cy="315.23" r="1.3" fill="#000"/>
<circle cx="141.89" cy="314.86" r="1.3" fill="#000"/>
<circle cx="145.05" cy="315.03" r="1.3" fill="#000"/>
<circle cx="127.84" cy="317.33" r="1.3" fill="#000"/>
<circle cx="131.16" cy="318.14" r="1.3" fill="#000"/>
<circle cx="134.41" cy="318.54" r="1.3" fill="#000"/>
<circle cx="137.88" cy="318.22" r="1.3" fill="#000"/>
<circle cx="140.86" cy="317.99" r="1.3" fill="#000"/>
<circle cx="144.26" cy="317.39" r="1.3" fill="#000"/>
<circle cx="127.30" cy="319.86" r="1.3" fill="#000"/>
<circle cx="129.95" cy="319.98" r="1.3" fill="#000"/>
<circle cx="133.32" cy="320.65" r="1.3" fill="#000"/>
<circle cx="136.21" cy="320.83" r="1.3" fill="#000"/>
<circle cx="139.15" cy="320.76" r="1.3" fill="#000"/>
<circle cx="142.33" cy="320.37" r="1.3" fill="#000"/>
<circle cx="144.93" cy="319.80" r="1.3" fill="#000"/>
<circle cx="127.69" cy="322.43" r="1.3" fill="#000"/>
<circle cx="131.49" cy="322.82" r="1.3" fill="#000"/>
<circle cx="134.13" cy="323.65" r="1.3" fill="#000"/>
<circle cx="137.59" cy="323.48" r="1.3" fill="#000"/>
<circle cx="140.91" cy="323.09" r="1.3" fill="#000"/>
<circle cx="144.32" cy="322.50" r="1.3" fill="#000"/>
<circle cx="127.09" cy="325.10" r="1.3" fill="#000"/>
<circle cx="129.78" cy="325.57" r="1.3" fill="#000"/>
<circle cx="132.94" cy="325.53" r="1.3" fill="#000"/>
<circle cx="136.22" cy="326.38" r="1.3" fill="#000"/>
<circle cx="138.73" cy="326.00" r="1.3" fill="#000"/>
<circle cx="142.21" cy="325.77" r="1.3" fill="#000"/>
<circle cx="145.02" cy="325.38" r="1.3" fill="#000"/>
<circle cx="127.68" cy="328.13" r="1.3" fill="#000"/>
<circle cx="130.86" cy="327.90" r="1.3" fill="#000"/>
<circle cx="134.22" cy="328.43" r="1.3" fill="#000"/>
<circle cx="137.65" cy="328.39" r="1.3" fill="#000"/>
<circle cx="140.86" cy="327.90" r="1.3" fill="#000"/>
<circle cx="144.12" cy="327.61" r="1.3" fill="#000"/>
<circle cx="126.87" cy="329.98" r="1.3" fill="#000"/>
<circle cx="130.03" cy="330.99" r="1.3" fill="#000"/>
<circle cx="133.11" cy="331.26" r="1.3" fill="#000"/>
<circle cx="135.78" cy="331.48" r="1.3" fill="#000"/>
<circle cx="138.68" cy="331.09" r="1.3" fill="#000"/>
<circle cx="142.32" cy="330.89" r="1.3" fill="#000"/>
<circle cx="144.69" cy="330.57" r="1.3" fill="#000"/>
<circle cx="127.87" cy="332.93" r="1.3" fill="#000"/>
<circle cx="131.29" cy="333.15" r="1.3" fill="#000"/>
<circle cx="134.27" cy="334.02" r="1.3" fill="#000"/>
<circle cx="137.81" cy="334.06" r="1.3" fill="#000"/>
<circle cx="140.99" cy="333.16" r="1.3" fill="#000"/>
<circle cx="143.79" cy="333.31" r="1.3" fill="#000"/>
<circle cx="130.10" cy="335.53" r="1.3" fill="#000"/>
<circle cx="132.72" cy="335.92" r="1.3" fill="#000"/>
<circle cx="136.09" cy="336.31" r="1.3" fill="#000"/>
<circle cx="139.21" cy="336.07" r="1.3" fill="#000"/>
<circle cx="142.16" cy="335.36" r="1.3" fill="#000"/>
<rect x="125.50" y="310.40" width="21.10" height="26.40" fill="none" stroke="#000" stroke-width="1.6"/>
<line x1="76.00" y1="240.40" x2="136.80" y2="240.40" stroke="#000" stroke-width="1.5"/>
<line x1="76.00" y1="239.70" x2="76.00" y2="243.00" stroke="#000" stroke-width="1.5"/>
<line x1="136.80" y1="239.70" x2="136.80" y2="243.00" stroke="#000" stroke-width="1.5"/>
<line x1="75.00" y1="253.50" x2="106.60" y2="253.50" stroke="#000" stroke-width="1.5"/>
<line x1="75.00" y1="252.80" x2="75.00" y2="256.00" stroke="#000" stroke-width="1.5"/>
<line x1="106.60" y1="252.80" x2="106.60" y2="256.00" stroke="#000" stroke-width="1.5"/>
<text x="107.40" y="239.40" font-size="9.2" font-weight="bold" text-anchor="middle" textLength="14.4" lengthAdjust="spacingAndGlyphs">****</text>
<text x="92.00" y="252.20" font-size="9.2" font-weight="bold" text-anchor="middle" textLength="7.4" lengthAdjust="spacingAndGlyphs">**</text>
<text x="105.30" y="229.80" font-size="9.9" font-weight="bold" text-anchor="middle" textLength="35" lengthAdjust="spacingAndGlyphs">miR-107</text>
<text transform="translate(28.40 288.90) rotate(-90)" font-size="8.36" font-weight="bold" text-anchor="middle" textLength="54.3" lengthAdjust="spacingAndGlyphs">Relative Levels</text>
<text transform="translate(37.20 288.30) rotate(-90)" font-size="8.66" font-weight="bold" text-anchor="middle" textLength="109.9" lengthAdjust="spacingAndGlyphs">(Normalized by miRNA 16-5p)</text>
<text transform="translate(77.00 343.80) rotate(-45)" font-size="7.87" font-weight="bold" text-anchor="end" textLength="25.41" lengthAdjust="spacingAndGlyphs">Control</text>
<text transform="translate(107.50 343.80) rotate(-45)" font-size="7.87" font-weight="bold" text-anchor="end" textLength="43.3" lengthAdjust="spacingAndGlyphs">Non-Sig PCa</text>
<text transform="translate(138.00 343.80) rotate(-45)" font-size="7.87" font-weight="bold" text-anchor="end" textLength="27.02" lengthAdjust="spacingAndGlyphs">Sig PCa</text>
<line x1="217.30" y1="239.95" x2="217.30" y2="337.15" stroke="#000" stroke-width="1.5"/>
<line x1="213.90" y1="336.40" x2="217.30" y2="336.40" stroke="#000" stroke-width="1.5"/>
<text x="212.60" y="339.14" font-size="8.36" font-weight="bold" text-anchor="end" textLength="4.1" lengthAdjust="spacingAndGlyphs">0</text>
<line x1="213.90" y1="288.55" x2="217.30" y2="288.55" stroke="#000" stroke-width="1.5"/>
<text x="212.60" y="291.29" font-size="8.36" font-weight="bold" text-anchor="end" textLength="8.2" lengthAdjust="spacingAndGlyphs">50</text>
<line x1="213.90" y1="240.70" x2="217.30" y2="240.70" stroke="#000" stroke-width="1.5"/>
<text x="212.60" y="243.44" font-size="8.36" font-weight="bold" text-anchor="end" textLength="12.3" lengthAdjust="spacingAndGlyphs">100</text>
<line x1="216.55" y1="336.40" x2="362.25" y2="336.40" stroke="#000" stroke-width="1.5"/>
<line x1="217.30" y1="336.40" x2="217.30" y2="339.80" stroke="#000" stroke-width="1.5"/>
<text x="217.30" y="348.60" font-size="8.36" font-weight="bold" text-anchor="middle" textLength="4.1" lengthAdjust="spacingAndGlyphs">0</text>
<line x1="289.40" y1="336.40" x2="289.40" y2="339.80" stroke="#000" stroke-width="1.5"/>
<text x="289.40" y="348.60" font-size="8.36" font-weight="bold" text-anchor="middle" textLength="8.2" lengthAdjust="spacingAndGlyphs">50</text>
<line x1="361.50" y1="336.40" x2="361.50" y2="339.80" stroke="#000" stroke-width="1.5"/>
<text x="361.50" y="348.60" font-size="8.36" font-weight="bold" text-anchor="middle" textLength="12.3" lengthAdjust="spacingAndGlyphs">100</text>
<line x1="217.30" y1="336.40" x2="361.50" y2="240.70" stroke="#000" stroke-width="1.5"/>
<polyline points="217.32,336.36 217.32,333.81 219.44,331.68 221.57,329.56 225.82,329.56 225.82,322.12 227.95,322.12 229.01,319.99 230.07,315.74 232.20,314.67 236.45,314.67 238.58,311.48 239.64,308.29 242.83,307.23 246.02,306.17 248.15,304.04 251.34,304.04 253.46,301.92 255.59,299.79 257.72,298.73 259.84,296.60 261.33,293.41 262.61,290.22 265.16,288.09 267.28,287.03 268.35,283.84 270.47,281.72 274.73,280.65 275.79,277.46 278.34,275.34 279.62,270.02 281.10,268.96 285.36,266.83 287.48,264.71 290.67,263.22 292.80,261.52 299.18,261.52 301.30,259.39 303.01,255.14 304.49,253.01 308.75,251.95 310.87,250.88 314.06,249.82 316.19,246.63 319.38,245.57 322.57,244.51 325.76,243.44 327.88,241.95 335.33,241.95 348.08,241.95 349.15,240.68 361.48,240.68" fill="none" stroke="#000" stroke-width="1.5" stroke-linejoin="miter"/>
<text x="303.40" y="306.80" font-size="9.3">AUC = 0.54</text>
<text x="303.40" y="318.50" font-size="9.3">p-value = 0.32</text>
<text x="289.90" y="229.80" font-size="10.23" font-weight="bold" text-anchor="middle" textLength="86.4" lengthAdjust="spacingAndGlyphs">Non-Sig vs Sig PCa</text>
<text transform="translate(190.50 288.50) rotate(-90)" font-size="8.58" font-weight="bold" text-anchor="middle" textLength="48.12" lengthAdjust="spacingAndGlyphs">Sensitivity %</text>
<text x="289.40" y="362.30" font-size="8.58" font-weight="bold" text-anchor="middle" textLength="72.83" lengthAdjust="spacingAndGlyphs">100% - Specificity%</text>
<line x1="40.00" y1="461.80" x2="40.00" y2="585.10" stroke="#000" stroke-width="1.7"/>
<line x1="35.50" y1="584.30" x2="40.00" y2="584.30" stroke="#000" stroke-width="1.7"/>
<text x="35.00" y="587.90" font-size="10.01" font-weight="bold" text-anchor="end" textLength="4.81" lengthAdjust="spacingAndGlyphs">0</text>
<line x1="35.50" y1="559.96" x2="40.00" y2="559.96" stroke="#000" stroke-width="1.7"/>
<text x="35.00" y="563.56" font-size="10.01" font-weight="bold" text-anchor="end" textLength="14.42" lengthAdjust="spacingAndGlyphs">200</text>
<line x1="35.50" y1="535.62" x2="40.00" y2="535.62" stroke="#000" stroke-width="1.7"/>
<text x="35.00" y="539.22" font-size="10.01" font-weight="bold" text-anchor="end" textLength="14.42" lengthAdjust="spacingAndGlyphs">400</text>
<line x1="35.50" y1="511.28" x2="40.00" y2="511.28" stroke="#000" stroke-width="1.7"/>
<text x="35.00" y="514.88" font-size="10.01" font-weight="bold" text-anchor="end" textLength="14.42" lengthAdjust="spacingAndGlyphs">600</text>
<line x1="35.50" y1="486.94" x2="40.00" y2="486.94" stroke="#000" stroke-width="1.7"/>
<text x="35.00" y="490.54" font-size="10.01" font-weight="bold" text-anchor="end" textLength="14.42" lengthAdjust="spacingAndGlyphs">800</text>
<line x1="35.50" y1="462.60" x2="40.00" y2="462.60" stroke="#000" stroke-width="1.7"/>
<text x="35.00" y="466.20" font-size="10.01" font-weight="bold" text-anchor="end" textLength="19.23" lengthAdjust="spacingAndGlyphs">1000</text>
<line x1="39.20" y1="584.30" x2="163.60" y2="584.30" stroke="#000" stroke-width="1.7"/>
<line x1="40.00" y1="584.30" x2="40.00" y2="588.50" stroke="#000" stroke-width="1.7"/>
<text x="40.00" y="598.90" font-size="9.24" font-weight="bold" text-anchor="middle" textLength="16.67" lengthAdjust="spacingAndGlyphs">0.00</text>
<line x1="64.56" y1="584.30" x2="64.56" y2="588.50" stroke="#000" stroke-width="1.7"/>
<text x="64.56" y="598.90" font-size="9.24" font-weight="bold" text-anchor="middle" textLength="16.67" lengthAdjust="spacingAndGlyphs">0.05</text>
<line x1="89.12" y1="584.30" x2="89.12" y2="588.50" stroke="#000" stroke-width="1.7"/>
<text x="89.12" y="598.90" font-size="9.24" font-weight="bold" text-anchor="middle" textLength="16.67" lengthAdjust="spacingAndGlyphs">0.10</text>
<line x1="113.68" y1="584.30" x2="113.68" y2="588.50" stroke="#000" stroke-width="1.7"/>
<text x="113.68" y="598.90" font-size="9.24" font-weight="bold" text-anchor="middle" textLength="16.67" lengthAdjust="spacingAndGlyphs">0.15</text>
<line x1="138.24" y1="584.30" x2="138.24" y2="588.50" stroke="#000" stroke-width="1.7"/>
<text x="138.24" y="598.90" font-size="9.24" font-weight="bold" text-anchor="middle" textLength="16.67" lengthAdjust="spacingAndGlyphs">0.20</text>
<line x1="162.80" y1="584.30" x2="162.80" y2="588.50" stroke="#000" stroke-width="1.7"/>
<text x="162.80" y="598.90" font-size="9.24" font-weight="bold" text-anchor="middle" textLength="16.67" lengthAdjust="spacingAndGlyphs">0.25</text>
<circle cx="86.85" cy="485.93" r="2.3" fill="#000"/>
<circle cx="127.96" cy="512.96" r="2.3" fill="#000"/>
<circle cx="102.22" cy="530.37" r="2.3" fill="#000"/>
<circle cx="47.10" cy="565.60" r="2.3" fill="#000"/>
<circle cx="50.50" cy="577.60" r="2.3" fill="#000"/>
<circle cx="69.70" cy="573.70" r="2.3" fill="#000"/>
<circle cx="75.90" cy="575.70" r="2.3" fill="#000"/>
<circle cx="83.10" cy="575.20" r="2.3" fill="#000"/>
<circle cx="62.00" cy="578.50" r="2.3" fill="#000"/>
<circle cx="84.00" cy="577.50" r="2.3" fill="#000"/>
<circle cx="128.10" cy="569.40" r="2.3" fill="#000"/>
<circle cx="113.30" cy="575.70" r="2.3" fill="#000"/>
<circle cx="109.40" cy="580.90" r="2.3" fill="#000"/>
<circle cx="117.60" cy="583.30" r="2.3" fill="#000"/>
<circle cx="123.30" cy="583.30" r="2.3" fill="#000"/>
<circle cx="127.70" cy="583.30" r="2.3" fill="#000"/>
<circle cx="132.00" cy="580.50" r="2.3" fill="#000"/>
<circle cx="131.50" cy="582.50" r="2.3" fill="#000"/>
<circle cx="89.00" cy="580.50" r="2.3" fill="#000"/>
<circle cx="96.00" cy="581.00" r="2.3" fill="#000"/>
<circle cx="103.00" cy="582.00" r="2.3" fill="#000"/>
<circle cx="47.82" cy="580.45" r="2.3" fill="#000"/>
<circle cx="96.49" cy="581.83" r="2.3" fill="#000"/>
<circle cx="48.40" cy="581.23" r="2.3" fill="#000"/>
<circle cx="74.58" cy="580.14" r="2.3" fill="#000"/>
<circle cx="91.95" cy="579.95" r="2.3" fill="#000"/>
<circle cx="68.60" cy="581.57" r="2.3" fill="#000"/>
<circle cx="71.28" cy="581.85" r="2.3" fill="#000"/>
<circle cx="92.17" cy="583.33" r="2.3" fill="#000"/>
<circle cx="61.33" cy="582.09" r="2.3" fill="#000"/>
<circle cx="89.34" cy="580.67" r="2.3" fill="#000"/>
<circle cx="42.10" cy="583.39" r="2.3" fill="#000"/>
<circle cx="62.29" cy="580.76" r="2.3" fill="#000"/>
<circle cx="102.64" cy="581.84" r="2.3" fill="#000"/>
<circle cx="74.05" cy="582.59" r="2.3" fill="#000"/>
<circle cx="44.06" cy="582.33" r="2.3" fill="#000"/>
<circle cx="67.45" cy="579.86" r="2.3" fill="#000"/>
<circle cx="86.91" cy="583.23" r="2.3" fill="#000"/>
<circle cx="56.09" cy="582.02" r="2.3" fill="#000"/>
<circle cx="62.28" cy="582.47" r="2.3" fill="#000"/>
<circle cx="91.11" cy="580.37" r="2.3" fill="#000"/>
<circle cx="98.43" cy="582.13" r="2.3" fill="#000"/>
<circle cx="88.43" cy="582.78" r="2.3" fill="#000"/>
<circle cx="71.14" cy="582.53" r="2.3" fill="#000"/>
<circle cx="101.74" cy="579.91" r="2.3" fill="#000"/>
<circle cx="99.78" cy="581.08" r="2.3" fill="#000"/>
<circle cx="74.62" cy="580.09" r="2.3" fill="#000"/>
<circle cx="89.49" cy="580.67" r="2.3" fill="#000"/>
<circle cx="101.24" cy="580.60" r="2.3" fill="#000"/>
<circle cx="80.20" cy="581.10" r="2.3" fill="#000"/>
<circle cx="83.68" cy="580.29" r="2.3" fill="#000"/>
<circle cx="54.26" cy="582.49" r="2.3" fill="#000"/>
<circle cx="93.15" cy="581.77" r="2.3" fill="#000"/>
<circle cx="104.63" cy="580.32" r="2.3" fill="#000"/>
<circle cx="99.86" cy="580.18" r="2.3" fill="#000"/>
<circle cx="107.58" cy="581.99" r="2.3" fill="#000"/>
<circle cx="83.27" cy="583.38" r="2.3" fill="#000"/>
<circle cx="95.52" cy="582.66" r="2.3" fill="#000"/>
<circle cx="45.68" cy="580.98" r="2.3" fill="#000"/>
<circle cx="47.77" cy="580.27" r="2.3" fill="#000"/>
<circle cx="56.54" cy="582.93" r="2.3" fill="#000"/>
<circle cx="50.62" cy="580.69" r="2.3" fill="#000"/>
<circle cx="75.51" cy="582.90" r="2.3" fill="#000"/>
<circle cx="107.64" cy="582.33" r="2.3" fill="#000"/>
<circle cx="56.53" cy="581.68" r="2.3" fill="#000"/>
<circle cx="90.01" cy="579.71" r="2.3" fill="#000"/>
<circle cx="88.23" cy="580.97" r="2.3" fill="#000"/>
<circle cx="82.10" cy="582.18" r="2.3" fill="#000"/>
<circle cx="87.50" cy="581.59" r="2.3" fill="#000"/>
<circle cx="79.72" cy="580.29" r="2.3" fill="#000"/>
<circle cx="75.67" cy="580.00" r="2.3" fill="#000"/>
<circle cx="74.69" cy="581.64" r="2.3" fill="#000"/>
<circle cx="94.64" cy="581.07" r="2.3" fill="#000"/>
<circle cx="43.33" cy="581.61" r="2.3" fill="#000"/>
<circle cx="55.96" cy="582.47" r="2.3" fill="#000"/>
<circle cx="68.43" cy="581.02" r="2.3" fill="#000"/>
<circle cx="103.84" cy="581.07" r="2.3" fill="#000"/>
<circle cx="65.72" cy="580.89" r="2.3" fill="#000"/>
<circle cx="74.69" cy="579.87" r="2.3" fill="#000"/>
<circle cx="79.18" cy="583.19" r="2.3" fill="#000"/>
<circle cx="80.28" cy="582.48" r="2.3" fill="#000"/>
<circle cx="92.20" cy="579.53" r="2.3" fill="#000"/>
<circle cx="81.43" cy="579.44" r="2.3" fill="#000"/>
<circle cx="85.47" cy="577.76" r="2.3" fill="#000"/>
<circle cx="67.54" cy="578.03" r="2.3" fill="#000"/>
<circle cx="55.87" cy="578.71" r="2.3" fill="#000"/>
<circle cx="58.85" cy="578.86" r="2.3" fill="#000"/>
<circle cx="72.87" cy="577.31" r="2.3" fill="#000"/>
<circle cx="65.45" cy="578.17" r="2.3" fill="#000"/>
<circle cx="79.45" cy="577.26" r="2.3" fill="#000"/>
<circle cx="50.95" cy="578.54" r="2.3" fill="#000"/>
<circle cx="63.44" cy="579.00" r="2.3" fill="#000"/>
<circle cx="59.64" cy="577.59" r="2.3" fill="#000"/>
<polyline points="40.00,584.30 162.70,569.20" fill="none" stroke="#000" stroke-width="1.6" stroke-linejoin="round"/>
<polyline points="40.00,578.50 68.00,577.20 95.00,573.70 128.00,566.50 160.30,559.30" fill="none" stroke="#000" stroke-width="1.1" stroke-linejoin="round" stroke-dasharray="3.4,2.2"/>
<polyline points="40.00,584.00 68.00,581.50 109.40,579.80 161.30,579.00" fill="none" stroke="#000" stroke-width="1.1" stroke-linejoin="round" stroke-dasharray="3.4,2.2"/>
<text transform="translate(10.20 524.00) rotate(-90)" font-size="10.56" font-weight="bold" text-anchor="middle" textLength="20.7" lengthAdjust="spacingAndGlyphs">PSA</text>
<line x1="216.80" y1="454.40" x2="216.80" y2="585.40" stroke="#000" stroke-width="1.7"/>
<line x1="212.30" y1="584.60" x2="216.80" y2="584.60" stroke="#000" stroke-width="1.7"/>
<text x="211.80" y="588.20" font-size="10.01" font-weight="bold" text-anchor="end" textLength="4.81" lengthAdjust="spacingAndGlyphs">0</text>
<line x1="212.30" y1="558.72" x2="216.80" y2="558.72" stroke="#000" stroke-width="1.7"/>
<text x="211.80" y="562.32" font-size="10.01" font-weight="bold" text-anchor="end" textLength="9.61" lengthAdjust="spacingAndGlyphs">20</text>
<line x1="212.30" y1="532.84" x2="216.80" y2="532.84" stroke="#000" stroke-width="1.7"/>
<text x="211.80" y="536.44" font-size="10.01" font-weight="bold" text-anchor="end" textLength="9.61" lengthAdjust="spacingAndGlyphs">40</text>
<line x1="212.30" y1="506.96" x2="216.80" y2="506.96" stroke="#000" stroke-width="1.7"/>
<text x="211.80" y="510.56" font-size="10.01" font-weight="bold" text-anchor="end" textLength="9.61" lengthAdjust="spacingAndGlyphs">60</text>
<line x1="212.30" y1="481.08" x2="216.80" y2="481.08" stroke="#000" stroke-width="1.7"/>
<text x="211.80" y="484.68" font-size="10.01" font-weight="bold" text-anchor="end" textLength="9.61" lengthAdjust="spacingAndGlyphs">80</text>
<line x1="212.30" y1="455.20" x2="216.80" y2="455.20" stroke="#000" stroke-width="1.7"/>
<text x="211.80" y="458.80" font-size="10.01" font-weight="bold" text-anchor="end" textLength="14.42" lengthAdjust="spacingAndGlyphs">100</text>
<line x1="216.00" y1="584.60" x2="347.00" y2="584.60" stroke="#000" stroke-width="1.7"/>
<line x1="216.80" y1="584.60" x2="216.80" y2="588.80" stroke="#000" stroke-width="1.7"/>
<text x="216.80" y="599.00" font-size="9.79" font-weight="bold" text-anchor="middle" textLength="12.62" lengthAdjust="spacingAndGlyphs">0.0</text>
<line x1="259.93" y1="584.60" x2="259.93" y2="588.80" stroke="#000" stroke-width="1.7"/>
<text x="259.93" y="599.00" font-size="9.79" font-weight="bold" text-anchor="middle" textLength="12.62" lengthAdjust="spacingAndGlyphs">0.1</text>
<line x1="303.07" y1="584.60" x2="303.07" y2="588.80" stroke="#000" stroke-width="1.7"/>
<text x="303.07" y="599.00" font-size="9.79" font-weight="bold" text-anchor="middle" textLength="12.62" lengthAdjust="spacingAndGlyphs">0.2</text>
<line x1="346.20" y1="584.60" x2="346.20" y2="588.80" stroke="#000" stroke-width="1.7"/>
<text x="346.20" y="599.00" font-size="9.79" font-weight="bold" text-anchor="middle" textLength="12.62" lengthAdjust="spacingAndGlyphs">0.3</text>
<circle cx="256.56" cy="492.48" r="2.3" fill="#000"/>
<circle cx="258.48" cy="495.75" r="2.3" fill="#000"/>
<circle cx="294.58" cy="500.17" r="2.3" fill="#000"/>
<circle cx="242.15" cy="509.19" r="2.3" fill="#000"/>
<circle cx="290.36" cy="509.19" r="2.3" fill="#000"/>
<circle cx="240.23" cy="515.91" r="2.3" fill="#000"/>
<circle cx="266.35" cy="517.07" r="2.3" fill="#000"/>
<circle cx="294.20" cy="517.07" r="2.3" fill="#000"/>
<circle cx="228.71" cy="520.33" r="2.3" fill="#000"/>
<circle cx="251.37" cy="519.75" r="2.3" fill="#000"/>
<circle cx="272.50" cy="523.60" r="2.3" fill="#000"/>
<circle cx="297.08" cy="524.75" r="2.3" fill="#000"/>
<circle cx="330.11" cy="523.60" r="2.3" fill="#000"/>
<circle cx="232.74" cy="527.44" r="2.3" fill="#000"/>
<circle cx="255.21" cy="527.44" r="2.3" fill="#000"/>
<circle cx="219.68" cy="531.28" r="2.3" fill="#000"/>
<circle cx="233.70" cy="532.43" r="2.3" fill="#000"/>
<circle cx="268.27" cy="532.43" r="2.3" fill="#000"/>
<circle cx="248.49" cy="535.12" r="2.3" fill="#000"/>
<circle cx="274.03" cy="537.61" r="2.3" fill="#000"/>
<circle cx="243.11" cy="539.54" r="2.3" fill="#000"/>
<circle cx="251.37" cy="539.54" r="2.3" fill="#000"/>
<circle cx="253.29" cy="540.50" r="2.3" fill="#000"/>
<circle cx="223.52" cy="541.07" r="2.3" fill="#000"/>
<circle cx="222.56" cy="547.22" r="2.3" fill="#000"/>
<circle cx="226.40" cy="546.83" r="2.3" fill="#000"/>
<circle cx="229.28" cy="546.26" r="2.3" fill="#000"/>
<circle cx="236.97" cy="546.83" r="2.3" fill="#000"/>
<circle cx="232.17" cy="548.75" r="2.3" fill="#000"/>
<circle cx="243.69" cy="549.52" r="2.3" fill="#000"/>
<circle cx="248.49" cy="546.26" r="2.3" fill="#000"/>
<circle cx="258.09" cy="547.22" r="2.3" fill="#000"/>
<circle cx="262.89" cy="546.26" r="2.3" fill="#000"/>
<circle cx="281.14" cy="546.83" r="2.3" fill="#000"/>
<circle cx="298.42" cy="546.26" r="2.3" fill="#000"/>
<circle cx="221.60" cy="553.94" r="2.3" fill="#000"/>
<circle cx="230.24" cy="552.98" r="2.3" fill="#000"/>
<circle cx="233.13" cy="552.02" r="2.3" fill="#000"/>
<circle cx="242.73" cy="552.98" r="2.3" fill="#000"/>
<circle cx="251.37" cy="552.02" r="2.3" fill="#000"/>
<circle cx="256.56" cy="550.10" r="2.3" fill="#000"/>
<circle cx="259.05" cy="548.75" r="2.3" fill="#000"/>
<circle cx="264.24" cy="552.40" r="2.3" fill="#000"/>
<circle cx="259.44" cy="555.28" r="2.3" fill="#000"/>
<circle cx="223.52" cy="555.86" r="2.3" fill="#000"/>
<circle cx="235.05" cy="557.40" r="2.3" fill="#000"/>
<circle cx="233.13" cy="558.74" r="2.3" fill="#000"/>
<circle cx="245.61" cy="557.40" r="2.3" fill="#000"/>
<circle cx="217.76" cy="558.36" r="2.3" fill="#000"/>
<circle cx="294.58" cy="554.52" r="2.3" fill="#000"/>
<circle cx="298.42" cy="558.74" r="2.3" fill="#000"/>
<circle cx="225.44" cy="561.24" r="2.3" fill="#000"/>
<circle cx="243.69" cy="561.24" r="2.3" fill="#000"/>
<circle cx="246.57" cy="563.93" r="2.3" fill="#000"/>
<circle cx="222.56" cy="566.42" r="2.3" fill="#000"/>
<circle cx="229.67" cy="566.42" r="2.3" fill="#000"/>
<circle cx="270.00" cy="566.42" r="2.3" fill="#000"/>
<circle cx="252.71" cy="568.92" r="2.3" fill="#000"/>
<circle cx="225.44" cy="549.14" r="2.3" fill="#000"/>
<circle cx="228.32" cy="551.44" r="2.3" fill="#000"/>
<circle cx="240.81" cy="551.06" r="2.3" fill="#000"/>
<circle cx="252.33" cy="543.38" r="2.3" fill="#000"/>
<circle cx="255.21" cy="545.30" r="2.3" fill="#000"/>
<polyline points="216.80,551.40 330.10,521.30" fill="none" stroke="#000" stroke-width="1.6" stroke-linejoin="round"/>
<polyline points="216.80,543.20 220.58,542.76 224.35,542.30 228.13,541.80 231.91,541.26 235.68,540.67 239.46,540.02 243.24,539.29 247.01,538.47 250.79,537.55 254.57,536.53 258.34,535.41 262.12,534.18 265.90,532.88 269.67,531.50 273.45,530.06 277.23,528.58 281.00,527.06 284.78,525.51 288.56,523.93 292.33,522.33 296.11,520.72 299.89,519.09 303.66,517.45 307.44,515.81 311.22,514.15 314.99,512.49 318.77,510.83 322.55,509.15 326.32,507.48 330.10,505.80" fill="none" stroke="#000" stroke-width="1.1" stroke-linejoin="round" stroke-dasharray="3.4,2.2"/>
<polyline points="216.80,559.60 220.58,558.03 224.35,556.49 228.13,554.98 231.91,553.51 235.68,552.09 239.46,550.74 243.24,549.46 247.01,548.27 250.79,547.19 254.57,546.20 258.34,545.32 262.12,544.54 265.90,543.83 269.67,543.21 273.45,542.64 277.23,542.11 281.00,541.63 284.78,541.17 288.56,540.75 292.33,540.34 296.11,539.94 299.89,539.56 303.66,539.19 307.44,538.83 311.22,538.48 314.99,538.13 318.77,537.79 322.55,537.46 326.32,537.13 330.10,536.80" fill="none" stroke="#000" stroke-width="1.1" stroke-linejoin="round" stroke-dasharray="3.4,2.2"/>
<text transform="translate(191.80 520.00) rotate(-90)" font-size="11.44" font-weight="bold" text-anchor="middle" textLength="72.7" lengthAdjust="spacingAndGlyphs">Tumor Volume</text>
<line x1="404.00" y1="455.80" x2="404.00" y2="585.20" stroke="#000" stroke-width="1.7"/>
<line x1="399.50" y1="584.40" x2="404.00" y2="584.40" stroke="#000" stroke-width="1.7"/>
<text transform="translate(399.00 588.00) scale(0.95 1)" font-size="9.1" text-anchor="end">0</text>
<line x1="399.50" y1="541.80" x2="404.00" y2="541.80" stroke="#000" stroke-width="1.7"/>
<text transform="translate(399.00 545.40) scale(0.95 1)" font-size="9.1" text-anchor="end">5</text>
<line x1="399.50" y1="499.20" x2="404.00" y2="499.20" stroke="#000" stroke-width="1.7"/>
<text transform="translate(399.00 502.80) scale(0.95 1)" font-size="9.1" text-anchor="end">10</text>
<line x1="399.50" y1="456.60" x2="404.00" y2="456.60" stroke="#000" stroke-width="1.7"/>
<text transform="translate(399.00 460.20) scale(0.95 1)" font-size="9.1" text-anchor="end">15</text>
<line x1="403.20" y1="584.40" x2="533.00" y2="584.40" stroke="#000" stroke-width="1.7"/>
<line x1="404.00" y1="584.40" x2="404.00" y2="588.60" stroke="#000" stroke-width="1.7"/>
<text x="404.00" y="599.00" font-size="9.79" font-weight="bold" text-anchor="middle" textLength="12.62" lengthAdjust="spacingAndGlyphs">0.0</text>
<line x1="446.73" y1="584.40" x2="446.73" y2="588.60" stroke="#000" stroke-width="1.7"/>
<text x="446.73" y="599.00" font-size="9.79" font-weight="bold" text-anchor="middle" textLength="12.62" lengthAdjust="spacingAndGlyphs">0.1</text>
<line x1="489.47" y1="584.40" x2="489.47" y2="588.60" stroke="#000" stroke-width="1.7"/>
<text x="489.47" y="599.00" font-size="9.79" font-weight="bold" text-anchor="middle" textLength="12.62" lengthAdjust="spacingAndGlyphs">0.2</text>
<line x1="532.20" y1="584.40" x2="532.20" y2="588.60" stroke="#000" stroke-width="1.7"/>
<text x="532.20" y="599.00" font-size="9.79" font-weight="bold" text-anchor="middle" textLength="12.62" lengthAdjust="spacingAndGlyphs">0.3</text>
<circle cx="417.28" cy="497.68" r="2.3" fill="#000"/>
<circle cx="409.99" cy="506.32" r="2.3" fill="#000"/>
<circle cx="426.89" cy="503.06" r="2.3" fill="#000"/>
<circle cx="440.91" cy="505.36" r="2.3" fill="#000"/>
<circle cx="404.80" cy="511.13" r="2.3" fill="#000"/>
<circle cx="416.90" cy="514.01" r="2.3" fill="#000"/>
<circle cx="418.63" cy="515.35" r="2.3" fill="#000"/>
<circle cx="430.73" cy="513.05" r="2.3" fill="#000"/>
<circle cx="419.59" cy="520.73" r="2.3" fill="#000"/>
<circle cx="420.74" cy="524.57" r="2.3" fill="#000"/>
<circle cx="430.15" cy="525.53" r="2.3" fill="#000"/>
<circle cx="445.13" cy="524.95" r="2.3" fill="#000"/>
<circle cx="421.51" cy="529.37" r="2.3" fill="#000"/>
<circle cx="410.95" cy="528.99" r="2.3" fill="#000"/>
<circle cx="428.81" cy="532.25" r="2.3" fill="#000"/>
<circle cx="432.65" cy="531.29" r="2.3" fill="#000"/>
<circle cx="438.41" cy="530.71" r="2.3" fill="#000"/>
<circle cx="460.50" cy="530.71" r="2.3" fill="#000"/>
<circle cx="468.18" cy="531.87" r="2.3" fill="#000"/>
<circle cx="412.48" cy="535.13" r="2.3" fill="#000"/>
<circle cx="424.97" cy="536.09" r="2.3" fill="#000"/>
<circle cx="439.95" cy="535.13" r="2.3" fill="#000"/>
<circle cx="453.39" cy="534.75" r="2.3" fill="#000"/>
<circle cx="456.08" cy="536.09" r="2.3" fill="#000"/>
<circle cx="472.02" cy="536.09" r="2.3" fill="#000"/>
<circle cx="480.66" cy="535.13" r="2.3" fill="#000"/>
<circle cx="476.82" cy="538.97" r="2.3" fill="#000"/>
<circle cx="480.66" cy="539.93" r="2.3" fill="#000"/>
<circle cx="410.56" cy="540.32" r="2.3" fill="#000"/>
<circle cx="424.01" cy="540.89" r="2.3" fill="#000"/>
<circle cx="443.21" cy="541.85" r="2.3" fill="#000"/>
<circle cx="456.65" cy="541.47" r="2.3" fill="#000"/>
<circle cx="405.76" cy="545.69" r="2.3" fill="#000"/>
<circle cx="408.64" cy="546.65" r="2.3" fill="#000"/>
<circle cx="419.20" cy="545.69" r="2.3" fill="#000"/>
<circle cx="423.05" cy="545.69" r="2.3" fill="#000"/>
<circle cx="428.81" cy="544.73" r="2.3" fill="#000"/>
<circle cx="438.41" cy="543.77" r="2.3" fill="#000"/>
<circle cx="446.09" cy="544.73" r="2.3" fill="#000"/>
<circle cx="453.77" cy="545.69" r="2.3" fill="#000"/>
<circle cx="459.54" cy="545.69" r="2.3" fill="#000"/>
<circle cx="484.50" cy="545.69" r="2.3" fill="#000"/>
<circle cx="484.50" cy="548.57" r="2.3" fill="#000"/>
<circle cx="416.32" cy="549.54" r="2.3" fill="#000"/>
<circle cx="410.56" cy="551.46" r="2.3" fill="#000"/>
<circle cx="423.05" cy="551.46" r="2.3" fill="#000"/>
<circle cx="429.77" cy="547.61" r="2.3" fill="#000"/>
<circle cx="454.73" cy="550.50" r="2.3" fill="#000"/>
<circle cx="461.46" cy="548.57" r="2.3" fill="#000"/>
<circle cx="483.54" cy="552.42" r="2.3" fill="#000"/>
<circle cx="434.57" cy="552.42" r="2.3" fill="#000"/>
<circle cx="442.25" cy="551.46" r="2.3" fill="#000"/>
<circle cx="446.09" cy="555.30" r="2.3" fill="#000"/>
<circle cx="464.34" cy="554.91" r="2.3" fill="#000"/>
<circle cx="406.72" cy="556.83" r="2.3" fill="#000"/>
<circle cx="420.17" cy="558.18" r="2.3" fill="#000"/>
<circle cx="424.01" cy="557.60" r="2.3" fill="#000"/>
<circle cx="430.73" cy="558.56" r="2.3" fill="#000"/>
<circle cx="435.53" cy="558.18" r="2.3" fill="#000"/>
<circle cx="445.13" cy="557.22" r="2.3" fill="#000"/>
<circle cx="449.93" cy="558.18" r="2.3" fill="#000"/>
<circle cx="451.85" cy="561.06" r="2.3" fill="#000"/>
<circle cx="480.66" cy="561.06" r="2.3" fill="#000"/>
<circle cx="480.66" cy="563.36" r="2.3" fill="#000"/>
<circle cx="458.57" cy="563.36" r="2.3" fill="#000"/>
<circle cx="452.81" cy="563.94" r="2.3" fill="#000"/>
<circle cx="450.32" cy="566.44" r="2.3" fill="#000"/>
<circle cx="409.60" cy="571.62" r="2.3" fill="#000"/>
<circle cx="516.19" cy="568.74" r="2.3" fill="#000"/>
<circle cx="442.25" cy="582.18" r="2.3" fill="#000"/>
<circle cx="413.44" cy="538.01" r="2.3" fill="#000"/>
<circle cx="417.28" cy="542.81" r="2.3" fill="#000"/>
<circle cx="434.57" cy="547.61" r="2.3" fill="#000"/>
<circle cx="426.89" cy="537.05" r="2.3" fill="#000"/>
<circle cx="449.93" cy="547.61" r="2.3" fill="#000"/>
<polyline points="403.84,536.48 516.77,558.18" fill="none" stroke="#000" stroke-width="1.6" stroke-linejoin="round"/>
<polyline points="403.84,530.71 428.81,535.71 457.61,540.32 486.42,544.16 517.15,546.27" fill="none" stroke="#000" stroke-width="1.1" stroke-linejoin="round" stroke-dasharray="3.4,2.2"/>
<polyline points="403.84,541.47 428.81,544.73 457.61,551.07 486.42,559.52 516.19,569.70" fill="none" stroke="#000" stroke-width="1.1" stroke-linejoin="round" stroke-dasharray="3.4,2.2"/>
<text transform="translate(380.60 521.10) rotate(-90)" font-size="11.66" font-weight="bold" text-anchor="middle" textLength="66" lengthAdjust="spacingAndGlyphs">Testosterone</text>
<line x1="585.40" y1="460.20" x2="585.40" y2="585.50" stroke="#000" stroke-width="1.7"/>
<line x1="580.90" y1="584.70" x2="585.40" y2="584.70" stroke="#000" stroke-width="1.7"/>
<text x="580.40" y="588.30" font-size="10.01" font-weight="bold" text-anchor="end" textLength="4.81" lengthAdjust="spacingAndGlyphs">0</text>
<line x1="580.90" y1="543.47" x2="585.40" y2="543.47" stroke="#000" stroke-width="1.7"/>
<text x="580.40" y="547.07" font-size="10.01" font-weight="bold" text-anchor="end" textLength="9.61" lengthAdjust="spacingAndGlyphs">20</text>
<line x1="580.90" y1="502.23" x2="585.40" y2="502.23" stroke="#000" stroke-width="1.7"/>
<text x="580.40" y="505.84" font-size="10.01" font-weight="bold" text-anchor="end" textLength="9.61" lengthAdjust="spacingAndGlyphs">40</text>
<line x1="580.90" y1="461.00" x2="585.40" y2="461.00" stroke="#000" stroke-width="1.7"/>
<text x="580.40" y="464.60" font-size="10.01" font-weight="bold" text-anchor="end" textLength="9.61" lengthAdjust="spacingAndGlyphs">60</text>
<line x1="584.60" y1="584.70" x2="710.10" y2="584.70" stroke="#000" stroke-width="1.7"/>
<line x1="585.40" y1="584.70" x2="585.40" y2="588.90" stroke="#000" stroke-width="1.7"/>
<text x="585.40" y="599.00" font-size="9.79" font-weight="bold" text-anchor="middle" textLength="12.62" lengthAdjust="spacingAndGlyphs">0.0</text>
<line x1="626.70" y1="584.70" x2="626.70" y2="588.90" stroke="#000" stroke-width="1.7"/>
<text x="626.70" y="599.00" font-size="9.79" font-weight="bold" text-anchor="middle" textLength="12.62" lengthAdjust="spacingAndGlyphs">0.1</text>
<line x1="668.00" y1="584.70" x2="668.00" y2="588.90" stroke="#000" stroke-width="1.7"/>
<text x="668.00" y="599.00" font-size="9.79" font-weight="bold" text-anchor="middle" textLength="12.62" lengthAdjust="spacingAndGlyphs">0.2</text>
<line x1="709.30" y1="584.70" x2="709.30" y2="588.90" stroke="#000" stroke-width="1.7"/>
<text x="709.30" y="599.00" font-size="9.79" font-weight="bold" text-anchor="middle" textLength="12.62" lengthAdjust="spacingAndGlyphs">0.3</text>
<circle cx="659.32" cy="478.26" r="2.3" fill="#000"/>
<circle cx="625.13" cy="493.43" r="2.3" fill="#000"/>
<circle cx="590.56" cy="533.38" r="2.3" fill="#000"/>
<circle cx="693.89" cy="542.40" r="2.3" fill="#000"/>
<circle cx="598.63" cy="552.58" r="2.3" fill="#000"/>
<circle cx="609.77" cy="551.62" r="2.3" fill="#000"/>
<circle cx="611.30" cy="548.36" r="2.3" fill="#000"/>
<circle cx="633.39" cy="553.93" r="2.3" fill="#000"/>
<circle cx="598.90" cy="552.60" r="2.3" fill="#000"/>
<circle cx="609.30" cy="551.50" r="2.3" fill="#000"/>
<circle cx="611.80" cy="548.20" r="2.3" fill="#000"/>
<circle cx="633.30" cy="553.70" r="2.3" fill="#000"/>
<circle cx="622.00" cy="559.20" r="2.3" fill="#000"/>
<circle cx="623.10" cy="563.00" r="2.3" fill="#000"/>
<circle cx="629.10" cy="566.30" r="2.3" fill="#000"/>
<circle cx="647.80" cy="566.30" r="2.3" fill="#000"/>
<circle cx="643.90" cy="581.70" r="2.3" fill="#000"/>
<circle cx="651.00" cy="578.40" r="2.3" fill="#000"/>
<circle cx="656.00" cy="579.00" r="2.3" fill="#000"/>
<circle cx="662.00" cy="573.00" r="2.3" fill="#000"/>
<circle cx="605.00" cy="569.50" r="2.3" fill="#000"/>
<circle cx="612.00" cy="570.50" r="2.3" fill="#000"/>
<circle cx="618.00" cy="571.00" r="2.3" fill="#000"/>
<circle cx="633.00" cy="572.00" r="2.3" fill="#000"/>
<circle cx="638.00" cy="573.00" r="2.3" fill="#000"/>
<circle cx="636.39" cy="574.80" r="2.3" fill="#000"/>
<circle cx="594.79" cy="575.22" r="2.3" fill="#000"/>
<circle cx="605.01" cy="574.59" r="2.3" fill="#000"/>
<circle cx="615.42" cy="582.77" r="2.3" fill="#000"/>
<circle cx="593.68" cy="576.77" r="2.3" fill="#000"/>
<circle cx="622.41" cy="582.17" r="2.3" fill="#000"/>
<circle cx="639.99" cy="573.65" r="2.3" fill="#000"/>
<circle cx="615.48" cy="582.13" r="2.3" fill="#000"/>
<circle cx="589.81" cy="578.77" r="2.3" fill="#000"/>
<circle cx="596.22" cy="580.83" r="2.3" fill="#000"/>
<circle cx="636.69" cy="578.19" r="2.3" fill="#000"/>
<circle cx="587.48" cy="572.74" r="2.3" fill="#000"/>
<circle cx="609.03" cy="581.74" r="2.3" fill="#000"/>
<circle cx="599.55" cy="579.70" r="2.3" fill="#000"/>
<circle cx="608.48" cy="575.05" r="2.3" fill="#000"/>
<circle cx="624.31" cy="575.54" r="2.3" fill="#000"/>
<circle cx="606.71" cy="580.80" r="2.3" fill="#000"/>
<circle cx="613.25" cy="581.02" r="2.3" fill="#000"/>
<circle cx="614.36" cy="573.84" r="2.3" fill="#000"/>
<circle cx="610.52" cy="582.04" r="2.3" fill="#000"/>
<circle cx="616.94" cy="583.10" r="2.3" fill="#000"/>
<circle cx="587.06" cy="575.91" r="2.3" fill="#000"/>
<circle cx="627.76" cy="579.89" r="2.3" fill="#000"/>
<circle cx="616.73" cy="579.63" r="2.3" fill="#000"/>
<circle cx="633.45" cy="579.86" r="2.3" fill="#000"/>
<circle cx="616.00" cy="578.47" r="2.3" fill="#000"/>
<circle cx="622.32" cy="575.72" r="2.3" fill="#000"/>
<circle cx="622.48" cy="579.07" r="2.3" fill="#000"/>
<circle cx="628.65" cy="577.52" r="2.3" fill="#000"/>
<circle cx="588.43" cy="578.17" r="2.3" fill="#000"/>
<circle cx="632.46" cy="579.36" r="2.3" fill="#000"/>
<circle cx="621.10" cy="576.50" r="2.3" fill="#000"/>
<circle cx="605.90" cy="580.27" r="2.3" fill="#000"/>
<circle cx="591.12" cy="581.96" r="2.3" fill="#000"/>
<circle cx="633.44" cy="583.07" r="2.3" fill="#000"/>
<circle cx="594.19" cy="573.33" r="2.3" fill="#000"/>
<circle cx="634.38" cy="576.61" r="2.3" fill="#000"/>
<circle cx="601.33" cy="576.40" r="2.3" fill="#000"/>
<circle cx="621.95" cy="573.86" r="2.3" fill="#000"/>
<circle cx="612.82" cy="579.59" r="2.3" fill="#000"/>
<circle cx="625.20" cy="572.14" r="2.3" fill="#000"/>
<circle cx="629.98" cy="576.99" r="2.3" fill="#000"/>
<circle cx="610.10" cy="578.47" r="2.3" fill="#000"/>
<circle cx="601.85" cy="582.20" r="2.3" fill="#000"/>
<circle cx="598.24" cy="578.24" r="2.3" fill="#000"/>
<circle cx="595.91" cy="579.09" r="2.3" fill="#000"/>
<circle cx="634.80" cy="582.15" r="2.3" fill="#000"/>
<circle cx="594.14" cy="579.19" r="2.3" fill="#000"/>
<circle cx="634.31" cy="574.30" r="2.3" fill="#000"/>
<circle cx="608.98" cy="580.20" r="2.3" fill="#000"/>
<circle cx="626.12" cy="577.19" r="2.3" fill="#000"/>
<circle cx="620.85" cy="579.69" r="2.3" fill="#000"/>
<circle cx="605.72" cy="579.50" r="2.3" fill="#000"/>
<circle cx="617.60" cy="580.02" r="2.3" fill="#000"/>
<circle cx="614.12" cy="575.87" r="2.3" fill="#000"/>
<circle cx="610.02" cy="582.61" r="2.3" fill="#000"/>
<circle cx="596.94" cy="573.71" r="2.3" fill="#000"/>
<circle cx="587.64" cy="581.80" r="2.3" fill="#000"/>
<circle cx="639.40" cy="574.72" r="2.3" fill="#000"/>
<circle cx="601.10" cy="574.28" r="2.3" fill="#000"/>
<circle cx="618.81" cy="577.58" r="2.3" fill="#000"/>
<circle cx="630.49" cy="574.41" r="2.3" fill="#000"/>
<circle cx="633.53" cy="577.34" r="2.3" fill="#000"/>
<circle cx="629.82" cy="581.22" r="2.3" fill="#000"/>
<circle cx="635.27" cy="577.74" r="2.3" fill="#000"/>
<circle cx="619.31" cy="578.45" r="2.3" fill="#000"/>
<circle cx="597.09" cy="577.77" r="2.3" fill="#000"/>
<circle cx="636.11" cy="582.45" r="2.3" fill="#000"/>
<circle cx="588.14" cy="579.63" r="2.3" fill="#000"/>
<circle cx="604.32" cy="573.56" r="2.3" fill="#000"/>
<circle cx="594.39" cy="581.14" r="2.3" fill="#000"/>
<circle cx="637.84" cy="577.98" r="2.3" fill="#000"/>
<circle cx="607.33" cy="577.86" r="2.3" fill="#000"/>
<circle cx="630.95" cy="580.59" r="2.3" fill="#000"/>
<circle cx="590.40" cy="574.44" r="2.3" fill="#000"/>
<circle cx="632.99" cy="577.67" r="2.3" fill="#000"/>
<circle cx="621.86" cy="580.94" r="2.3" fill="#000"/>
<circle cx="620.74" cy="580.44" r="2.3" fill="#000"/>
<circle cx="615.92" cy="574.64" r="2.3" fill="#000"/>
<circle cx="596.92" cy="583.43" r="2.3" fill="#000"/>
<circle cx="592.50" cy="572.61" r="2.3" fill="#000"/>
<circle cx="634.27" cy="570.54" r="2.3" fill="#000"/>
<circle cx="594.33" cy="571.30" r="2.3" fill="#000"/>
<circle cx="607.84" cy="571.58" r="2.3" fill="#000"/>
<circle cx="612.52" cy="573.74" r="2.3" fill="#000"/>
<circle cx="597.73" cy="573.75" r="2.3" fill="#000"/>
<circle cx="594.20" cy="573.72" r="2.3" fill="#000"/>
<circle cx="607.98" cy="572.77" r="2.3" fill="#000"/>
<circle cx="592.15" cy="571.51" r="2.3" fill="#000"/>
<circle cx="624.53" cy="572.33" r="2.3" fill="#000"/>
<circle cx="630.71" cy="570.19" r="2.3" fill="#000"/>
<circle cx="611.26" cy="572.26" r="2.3" fill="#000"/>
<circle cx="593.38" cy="573.26" r="2.3" fill="#000"/>
<circle cx="611.98" cy="570.61" r="2.3" fill="#000"/>
<polyline points="585.40,575.30 694.70,561.60" fill="none" stroke="#000" stroke-width="1.6" stroke-linejoin="round"/>
<polyline points="585.40,572.90 610.00,572.30 629.10,567.40 663.00,558.10 693.30,548.70" fill="none" stroke="#000" stroke-width="1.1" stroke-linejoin="round" stroke-dasharray="3.4,2.2"/>
<polyline points="585.40,578.00 620.00,576.50 663.00,575.10 694.30,574.10" fill="none" stroke="#000" stroke-width="1.1" stroke-linejoin="round" stroke-dasharray="3.4,2.2"/>
<text transform="translate(562.60 522.50) rotate(-90)" font-size="10.67" font-weight="bold" text-anchor="middle" textLength="20.5" lengthAdjust="spacingAndGlyphs">CRP</text>
<line x1="40.10" y1="690.70" x2="40.10" y2="810.40" stroke="#000" stroke-width="1.7"/>
<line x1="35.60" y1="809.60" x2="40.10" y2="809.60" stroke="#000" stroke-width="1.7"/>
<text x="35.10" y="813.20" font-size="10.01" font-weight="bold" text-anchor="end" textLength="4.81" lengthAdjust="spacingAndGlyphs">0</text>
<line x1="35.60" y1="785.98" x2="40.10" y2="785.98" stroke="#000" stroke-width="1.7"/>
<text x="35.10" y="789.58" font-size="10.01" font-weight="bold" text-anchor="end" textLength="9.61" lengthAdjust="spacingAndGlyphs">10</text>
<line x1="35.60" y1="762.36" x2="40.10" y2="762.36" stroke="#000" stroke-width="1.7"/>
<text x="35.10" y="765.96" font-size="10.01" font-weight="bold" text-anchor="end" textLength="9.61" lengthAdjust="spacingAndGlyphs">20</text>
<line x1="35.60" y1="738.74" x2="40.10" y2="738.74" stroke="#000" stroke-width="1.7"/>
<text x="35.10" y="742.34" font-size="10.01" font-weight="bold" text-anchor="end" textLength="9.61" lengthAdjust="spacingAndGlyphs">30</text>
<line x1="35.60" y1="715.12" x2="40.10" y2="715.12" stroke="#000" stroke-width="1.7"/>
<text x="35.10" y="718.72" font-size="10.01" font-weight="bold" text-anchor="end" textLength="9.61" lengthAdjust="spacingAndGlyphs">40</text>
<line x1="35.60" y1="691.50" x2="40.10" y2="691.50" stroke="#000" stroke-width="1.7"/>
<text x="35.10" y="695.10" font-size="10.01" font-weight="bold" text-anchor="end" textLength="9.61" lengthAdjust="spacingAndGlyphs">50</text>
<line x1="39.30" y1="809.60" x2="159.20" y2="809.60" stroke="#000" stroke-width="1.7"/>
<line x1="40.10" y1="809.60" x2="40.10" y2="813.80" stroke="#000" stroke-width="1.7"/>
<text x="40.10" y="823.40" font-size="9.24" font-weight="bold" text-anchor="middle" textLength="16.67" lengthAdjust="spacingAndGlyphs">0.00</text>
<line x1="63.76" y1="809.60" x2="63.76" y2="813.80" stroke="#000" stroke-width="1.7"/>
<text x="63.76" y="823.40" font-size="9.24" font-weight="bold" text-anchor="middle" textLength="16.67" lengthAdjust="spacingAndGlyphs">0.05</text>
<line x1="87.42" y1="809.60" x2="87.42" y2="813.80" stroke="#000" stroke-width="1.7"/>
<text x="87.42" y="823.40" font-size="9.24" font-weight="bold" text-anchor="middle" textLength="16.67" lengthAdjust="spacingAndGlyphs">0.10</text>
<line x1="111.08" y1="809.60" x2="111.08" y2="813.80" stroke="#000" stroke-width="1.7"/>
<text x="111.08" y="823.40" font-size="9.24" font-weight="bold" text-anchor="middle" textLength="16.67" lengthAdjust="spacingAndGlyphs">0.15</text>
<line x1="134.74" y1="809.60" x2="134.74" y2="813.80" stroke="#000" stroke-width="1.7"/>
<text x="134.74" y="823.40" font-size="9.24" font-weight="bold" text-anchor="middle" textLength="16.67" lengthAdjust="spacingAndGlyphs">0.20</text>
<line x1="158.40" y1="809.60" x2="158.40" y2="813.80" stroke="#000" stroke-width="1.7"/>
<text x="158.40" y="823.40" font-size="9.24" font-weight="bold" text-anchor="middle" textLength="16.67" lengthAdjust="spacingAndGlyphs">0.25</text>
<circle cx="61.50" cy="761.00" r="2.3" fill="#000"/>
<circle cx="66.30" cy="761.70" r="2.3" fill="#000"/>
<circle cx="85.10" cy="759.00" r="2.3" fill="#000"/>
<circle cx="54.50" cy="776.90" r="2.3" fill="#000"/>
<circle cx="62.50" cy="780.50" r="2.3" fill="#000"/>
<circle cx="65.90" cy="781.40" r="2.3" fill="#000"/>
<circle cx="69.70" cy="778.10" r="2.3" fill="#000"/>
<circle cx="74.00" cy="779.50" r="2.3" fill="#000"/>
<circle cx="67.80" cy="783.80" r="2.3" fill="#000"/>
<circle cx="65.90" cy="786.70" r="2.3" fill="#000"/>
<circle cx="55.30" cy="785.70" r="2.3" fill="#000"/>
<circle cx="59.10" cy="788.10" r="2.3" fill="#000"/>
<circle cx="53.40" cy="789.10" r="2.3" fill="#000"/>
<circle cx="76.40" cy="789.10" r="2.3" fill="#000"/>
<circle cx="43.80" cy="792.50" r="2.3" fill="#000"/>
<circle cx="97.10" cy="783.80" r="2.3" fill="#000"/>
<circle cx="104.80" cy="780.90" r="2.3" fill="#000"/>
<circle cx="80.30" cy="793.90" r="2.3" fill="#000"/>
<circle cx="88.00" cy="794.40" r="2.3" fill="#000"/>
<circle cx="97.60" cy="797.30" r="2.3" fill="#000"/>
<circle cx="86.00" cy="799.20" r="2.3" fill="#000"/>
<circle cx="88.00" cy="801.60" r="2.3" fill="#000"/>
<circle cx="96.60" cy="800.60" r="2.3" fill="#000"/>
<circle cx="105.20" cy="797.30" r="2.3" fill="#000"/>
<circle cx="106.20" cy="804.00" r="2.3" fill="#000"/>
<circle cx="66.80" cy="807.40" r="2.3" fill="#000"/>
<circle cx="70.70" cy="806.90" r="2.3" fill="#000"/>
<circle cx="97.52" cy="784.04" r="2.3" fill="#000"/>
<circle cx="104.65" cy="781.01" r="2.3" fill="#000"/>
<circle cx="140.32" cy="786.01" r="2.3" fill="#000"/>
<circle cx="119.81" cy="797.42" r="2.3" fill="#000"/>
<circle cx="123.38" cy="798.49" r="2.3" fill="#000"/>
<circle cx="132.29" cy="799.74" r="2.3" fill="#000"/>
<circle cx="110.89" cy="797.95" r="2.3" fill="#000"/>
<circle cx="104.65" cy="797.42" r="2.3" fill="#000"/>
<circle cx="105.54" cy="801.52" r="2.3" fill="#000"/>
<circle cx="107.33" cy="804.55" r="2.3" fill="#000"/>
<circle cx="98.41" cy="797.06" r="2.3" fill="#000"/>
<circle cx="99.30" cy="799.74" r="2.3" fill="#000"/>
<circle cx="51.90" cy="798.09" r="2.3" fill="#000"/>
<circle cx="46.48" cy="791.79" r="2.3" fill="#000"/>
<circle cx="54.42" cy="792.01" r="2.3" fill="#000"/>
<circle cx="67.65" cy="797.18" r="2.3" fill="#000"/>
<circle cx="73.02" cy="798.87" r="2.3" fill="#000"/>
<circle cx="54.13" cy="793.03" r="2.3" fill="#000"/>
<circle cx="48.82" cy="791.76" r="2.3" fill="#000"/>
<circle cx="63.74" cy="799.33" r="2.3" fill="#000"/>
<circle cx="54.17" cy="793.34" r="2.3" fill="#000"/>
<circle cx="69.89" cy="802.86" r="2.3" fill="#000"/>
<circle cx="47.63" cy="789.10" r="2.3" fill="#000"/>
<circle cx="68.54" cy="795.68" r="2.3" fill="#000"/>
<circle cx="58.18" cy="797.82" r="2.3" fill="#000"/>
<circle cx="68.57" cy="789.08" r="2.3" fill="#000"/>
<circle cx="74.82" cy="802.85" r="2.3" fill="#000"/>
<circle cx="57.92" cy="795.28" r="2.3" fill="#000"/>
<circle cx="53.44" cy="797.11" r="2.3" fill="#000"/>
<circle cx="51.36" cy="796.29" r="2.3" fill="#000"/>
<circle cx="73.03" cy="795.85" r="2.3" fill="#000"/>
<circle cx="70.64" cy="790.78" r="2.3" fill="#000"/>
<circle cx="72.39" cy="789.91" r="2.3" fill="#000"/>
<circle cx="51.60" cy="799.16" r="2.3" fill="#000"/>
<circle cx="54.36" cy="789.84" r="2.3" fill="#000"/>
<circle cx="47.69" cy="800.30" r="2.3" fill="#000"/>
<circle cx="45.61" cy="788.87" r="2.3" fill="#000"/>
<circle cx="74.31" cy="800.12" r="2.3" fill="#000"/>
<circle cx="56.48" cy="790.98" r="2.3" fill="#000"/>
<circle cx="71.88" cy="800.21" r="2.3" fill="#000"/>
<circle cx="65.72" cy="796.22" r="2.3" fill="#000"/>
<circle cx="61.28" cy="803.16" r="2.3" fill="#000"/>
<circle cx="61.19" cy="789.30" r="2.3" fill="#000"/>
<circle cx="47.32" cy="797.23" r="2.3" fill="#000"/>
<circle cx="67.71" cy="797.74" r="2.3" fill="#000"/>
<circle cx="68.03" cy="792.56" r="2.3" fill="#000"/>
<circle cx="56.50" cy="792.11" r="2.3" fill="#000"/>
<circle cx="56.55" cy="792.13" r="2.3" fill="#000"/>
<circle cx="70.86" cy="790.29" r="2.3" fill="#000"/>
<circle cx="51.44" cy="799.07" r="2.3" fill="#000"/>
<circle cx="57.34" cy="793.29" r="2.3" fill="#000"/>
<circle cx="75.21" cy="801.85" r="2.3" fill="#000"/>
<circle cx="51.79" cy="790.41" r="2.3" fill="#000"/>
<circle cx="60.26" cy="796.90" r="2.3" fill="#000"/>
<circle cx="55.75" cy="797.17" r="2.3" fill="#000"/>
<circle cx="66.02" cy="800.63" r="2.3" fill="#000"/>
<circle cx="52.51" cy="798.00" r="2.3" fill="#000"/>
<polyline points="40.10,793.20 158.40,793.60" fill="none" stroke="#000" stroke-width="1.6" stroke-linejoin="round"/>
<polyline points="44.00,789.60 90.00,791.00 158.40,787.20" fill="none" stroke="#000" stroke-width="1.1" stroke-linejoin="round" stroke-dasharray="3.4,2.2"/>
<polyline points="44.00,796.30 90.00,796.50 158.40,800.60" fill="none" stroke="#000" stroke-width="1.1" stroke-linejoin="round" stroke-dasharray="3.4,2.2"/>
<text transform="translate(20.60 750.00) rotate(-90)" font-size="10.34" font-weight="bold" text-anchor="middle" textLength="19.7" lengthAdjust="spacingAndGlyphs">PSA</text>
<line x1="216.70" y1="684.50" x2="216.70" y2="810.40" stroke="#000" stroke-width="1.7"/>
<line x1="212.20" y1="809.60" x2="216.70" y2="809.60" stroke="#000" stroke-width="1.7"/>
<text x="211.70" y="813.20" font-size="10.01" font-weight="bold" text-anchor="end" textLength="4.81" lengthAdjust="spacingAndGlyphs">0</text>
<line x1="212.20" y1="784.74" x2="216.70" y2="784.74" stroke="#000" stroke-width="1.7"/>
<text x="211.70" y="788.34" font-size="10.01" font-weight="bold" text-anchor="end" textLength="9.61" lengthAdjust="spacingAndGlyphs">20</text>
<line x1="212.20" y1="759.88" x2="216.70" y2="759.88" stroke="#000" stroke-width="1.7"/>
<text x="211.70" y="763.48" font-size="10.01" font-weight="bold" text-anchor="end" textLength="9.61" lengthAdjust="spacingAndGlyphs">40</text>
<line x1="212.20" y1="735.02" x2="216.70" y2="735.02" stroke="#000" stroke-width="1.7"/>
<text x="211.70" y="738.62" font-size="10.01" font-weight="bold" text-anchor="end" textLength="9.61" lengthAdjust="spacingAndGlyphs">60</text>
<line x1="212.20" y1="710.16" x2="216.70" y2="710.16" stroke="#000" stroke-width="1.7"/>
<text x="211.70" y="713.76" font-size="10.01" font-weight="bold" text-anchor="end" textLength="9.61" lengthAdjust="spacingAndGlyphs">80</text>
<line x1="212.20" y1="685.30" x2="216.70" y2="685.30" stroke="#000" stroke-width="1.7"/>
<text x="211.70" y="688.90" font-size="10.01" font-weight="bold" text-anchor="end" textLength="14.42" lengthAdjust="spacingAndGlyphs">100</text>
<line x1="215.90" y1="809.60" x2="341.50" y2="809.60" stroke="#000" stroke-width="1.7"/>
<line x1="216.70" y1="809.60" x2="216.70" y2="813.80" stroke="#000" stroke-width="1.7"/>
<text x="216.70" y="823.60" font-size="9.79" font-weight="bold" text-anchor="middle" textLength="12.62" lengthAdjust="spacingAndGlyphs">0.0</text>
<line x1="258.03" y1="809.60" x2="258.03" y2="813.80" stroke="#000" stroke-width="1.7"/>
<text x="258.03" y="823.60" font-size="9.79" font-weight="bold" text-anchor="middle" textLength="12.62" lengthAdjust="spacingAndGlyphs">0.1</text>
<line x1="299.37" y1="809.60" x2="299.37" y2="813.80" stroke="#000" stroke-width="1.7"/>
<text x="299.37" y="823.60" font-size="9.79" font-weight="bold" text-anchor="middle" textLength="12.62" lengthAdjust="spacingAndGlyphs">0.2</text>
<line x1="340.70" y1="809.60" x2="340.70" y2="813.80" stroke="#000" stroke-width="1.7"/>
<text x="340.70" y="823.60" font-size="9.79" font-weight="bold" text-anchor="middle" textLength="12.62" lengthAdjust="spacingAndGlyphs">0.3</text>
<circle cx="239.46" cy="710.56" r="2.3" fill="#000"/>
<circle cx="235.05" cy="717.67" r="2.3" fill="#000"/>
<circle cx="236.58" cy="720.17" r="2.3" fill="#000"/>
<circle cx="228.90" cy="723.05" r="2.3" fill="#000"/>
<circle cx="226.40" cy="724.97" r="2.3" fill="#000"/>
<circle cx="224.10" cy="731.30" r="2.3" fill="#000"/>
<circle cx="245.61" cy="732.65" r="2.3" fill="#000"/>
<circle cx="251.75" cy="735.14" r="2.3" fill="#000"/>
<circle cx="255.79" cy="739.95" r="2.3" fill="#000"/>
<circle cx="228.90" cy="741.29" r="2.3" fill="#000"/>
<circle cx="233.51" cy="741.29" r="2.3" fill="#000"/>
<circle cx="236.58" cy="744.56" r="2.3" fill="#000"/>
<circle cx="240.81" cy="742.63" r="2.3" fill="#000"/>
<circle cx="248.11" cy="746.09" r="2.3" fill="#000"/>
<circle cx="272.88" cy="747.44" r="2.3" fill="#000"/>
<circle cx="219.68" cy="748.97" r="2.3" fill="#000"/>
<circle cx="226.98" cy="756.27" r="2.3" fill="#000"/>
<circle cx="232.74" cy="755.69" r="2.3" fill="#000"/>
<circle cx="241.19" cy="754.73" r="2.3" fill="#000"/>
<circle cx="303.80" cy="755.69" r="2.3" fill="#000"/>
<circle cx="268.65" cy="759.54" r="2.3" fill="#000"/>
<circle cx="266.73" cy="762.42" r="2.3" fill="#000"/>
<circle cx="278.26" cy="762.80" r="2.3" fill="#000"/>
<circle cx="296.50" cy="762.42" r="2.3" fill="#000"/>
<circle cx="230.24" cy="762.42" r="2.3" fill="#000"/>
<circle cx="238.89" cy="762.42" r="2.3" fill="#000"/>
<circle cx="224.48" cy="766.26" r="2.3" fill="#000"/>
<circle cx="225.44" cy="768.18" r="2.3" fill="#000"/>
<circle cx="275.38" cy="769.14" r="2.3" fill="#000"/>
<circle cx="273.46" cy="772.59" r="2.3" fill="#000"/>
<circle cx="266.73" cy="772.59" r="2.3" fill="#000"/>
<circle cx="331.45" cy="772.98" r="2.3" fill="#000"/>
<circle cx="228.32" cy="772.98" r="2.3" fill="#000"/>
<circle cx="230.24" cy="775.28" r="2.3" fill="#000"/>
<circle cx="235.05" cy="772.98" r="2.3" fill="#000"/>
<circle cx="239.85" cy="772.59" r="2.3" fill="#000"/>
<circle cx="231.20" cy="776.82" r="2.3" fill="#000"/>
<circle cx="226.98" cy="779.70" r="2.3" fill="#000"/>
<circle cx="229.28" cy="779.32" r="2.3" fill="#000"/>
<circle cx="243.30" cy="778.36" r="2.3" fill="#000"/>
<circle cx="289.78" cy="779.70" r="2.3" fill="#000"/>
<circle cx="235.05" cy="782.58" r="2.3" fill="#000"/>
<circle cx="240.81" cy="783.54" r="2.3" fill="#000"/>
<circle cx="246.18" cy="783.54" r="2.3" fill="#000"/>
<circle cx="268.65" cy="782.58" r="2.3" fill="#000"/>
<circle cx="273.46" cy="781.24" r="2.3" fill="#000"/>
<circle cx="275.38" cy="787.38" r="2.3" fill="#000"/>
<circle cx="232.17" cy="790.26" r="2.3" fill="#000"/>
<circle cx="238.89" cy="790.26" r="2.3" fill="#000"/>
<circle cx="242.34" cy="789.30" r="2.3" fill="#000"/>
<circle cx="266.35" cy="790.84" r="2.3" fill="#000"/>
<circle cx="235.05" cy="794.49" r="2.3" fill="#000"/>
<polyline points="219.68,755.69 331.45,777.78" fill="none" stroke="#000" stroke-width="1.6" stroke-linejoin="round"/>
<polyline points="219.68,746.67 240.81,753.39 269.61,757.23 298.42,757.04 332.03,755.31" fill="none" stroke="#000" stroke-width="1.1" stroke-linejoin="round" stroke-dasharray="3.4,2.2"/>
<polyline points="219.68,765.30 240.81,767.22 269.61,773.94 298.42,784.50 330.11,799.48" fill="none" stroke="#000" stroke-width="1.1" stroke-linejoin="round" stroke-dasharray="3.4,2.2"/>
<text transform="translate(192.90 747.80) rotate(-90)" font-size="11.33" font-weight="bold" text-anchor="middle" textLength="70.3" lengthAdjust="spacingAndGlyphs">Tumor Volume</text>
<line x1="403.90" y1="685.10" x2="403.90" y2="810.20" stroke="#000" stroke-width="1.7"/>
<line x1="399.40" y1="809.40" x2="403.90" y2="809.40" stroke="#000" stroke-width="1.7"/>
<text x="398.90" y="813.00" font-size="10.01" font-weight="bold" text-anchor="end" textLength="4.81" lengthAdjust="spacingAndGlyphs">0</text>
<line x1="399.40" y1="768.23" x2="403.90" y2="768.23" stroke="#000" stroke-width="1.7"/>
<text x="398.90" y="771.84" font-size="10.01" font-weight="bold" text-anchor="end" textLength="4.81" lengthAdjust="spacingAndGlyphs">5</text>
<line x1="399.40" y1="727.07" x2="403.90" y2="727.07" stroke="#000" stroke-width="1.7"/>
<text x="398.90" y="730.67" font-size="10.01" font-weight="bold" text-anchor="end" textLength="9.61" lengthAdjust="spacingAndGlyphs">10</text>
<line x1="399.40" y1="685.90" x2="403.90" y2="685.90" stroke="#000" stroke-width="1.7"/>
<text x="398.90" y="689.50" font-size="10.01" font-weight="bold" text-anchor="end" textLength="9.61" lengthAdjust="spacingAndGlyphs">15</text>
<line x1="403.10" y1="809.40" x2="529.10" y2="809.40" stroke="#000" stroke-width="1.7"/>
<line x1="403.90" y1="809.40" x2="403.90" y2="813.60" stroke="#000" stroke-width="1.7"/>
<text x="403.90" y="823.60" font-size="9.79" font-weight="bold" text-anchor="middle" textLength="12.62" lengthAdjust="spacingAndGlyphs">0.0</text>
<line x1="428.78" y1="809.40" x2="428.78" y2="813.60" stroke="#000" stroke-width="1.7"/>
<text x="428.78" y="823.60" font-size="9.79" font-weight="bold" text-anchor="middle" textLength="12.62" lengthAdjust="spacingAndGlyphs">0.1</text>
<line x1="453.66" y1="809.40" x2="453.66" y2="813.60" stroke="#000" stroke-width="1.7"/>
<text x="453.66" y="823.60" font-size="9.79" font-weight="bold" text-anchor="middle" textLength="12.62" lengthAdjust="spacingAndGlyphs">0.2</text>
<line x1="478.54" y1="809.40" x2="478.54" y2="813.60" stroke="#000" stroke-width="1.7"/>
<text x="478.54" y="823.60" font-size="9.79" font-weight="bold" text-anchor="middle" textLength="12.62" lengthAdjust="spacingAndGlyphs">0.3</text>
<line x1="503.42" y1="809.40" x2="503.42" y2="813.60" stroke="#000" stroke-width="1.7"/>
<text x="503.42" y="823.60" font-size="9.79" font-weight="bold" text-anchor="middle" textLength="12.62" lengthAdjust="spacingAndGlyphs">0.4</text>
<line x1="528.30" y1="809.40" x2="528.30" y2="813.60" stroke="#000" stroke-width="1.7"/>
<text x="528.30" y="823.60" font-size="9.79" font-weight="bold" text-anchor="middle" textLength="12.62" lengthAdjust="spacingAndGlyphs">0.5</text>
<circle cx="413.93" cy="742.47" r="2.3" fill="#000"/>
<circle cx="411.05" cy="745.60" r="2.3" fill="#000"/>
<circle cx="415.17" cy="746.17" r="2.3" fill="#000"/>
<circle cx="416.40" cy="748.23" r="2.3" fill="#000"/>
<circle cx="417.64" cy="751.93" r="2.3" fill="#000"/>
<circle cx="425.05" cy="754.16" r="2.3" fill="#000"/>
<circle cx="413.52" cy="757.70" r="2.3" fill="#000"/>
<circle cx="418.87" cy="757.70" r="2.3" fill="#000"/>
<circle cx="409.82" cy="761.81" r="2.3" fill="#000"/>
<circle cx="415.58" cy="760.58" r="2.3" fill="#000"/>
<circle cx="417.23" cy="763.05" r="2.3" fill="#000"/>
<circle cx="420.11" cy="762.22" r="2.3" fill="#000"/>
<circle cx="429.16" cy="758.93" r="2.3" fill="#000"/>
<circle cx="434.92" cy="757.70" r="2.3" fill="#000"/>
<circle cx="433.28" cy="760.16" r="2.3" fill="#000"/>
<circle cx="430.81" cy="763.87" r="2.3" fill="#000"/>
<circle cx="433.28" cy="764.69" r="2.3" fill="#000"/>
<circle cx="439.04" cy="764.69" r="2.3" fill="#000"/>
<circle cx="412.70" cy="764.69" r="2.3" fill="#000"/>
<circle cx="415.17" cy="766.34" r="2.3" fill="#000"/>
<circle cx="418.46" cy="766.34" r="2.3" fill="#000"/>
<circle cx="421.75" cy="766.34" r="2.3" fill="#000"/>
<circle cx="426.69" cy="766.34" r="2.3" fill="#000"/>
<circle cx="406.12" cy="767.16" r="2.3" fill="#000"/>
<circle cx="409.41" cy="767.98" r="2.3" fill="#000"/>
<circle cx="412.70" cy="768.81" r="2.3" fill="#000"/>
<circle cx="415.99" cy="768.81" r="2.3" fill="#000"/>
<circle cx="419.28" cy="769.63" r="2.3" fill="#000"/>
<circle cx="422.58" cy="768.81" r="2.3" fill="#000"/>
<circle cx="407.35" cy="772.10" r="2.3" fill="#000"/>
<circle cx="411.88" cy="772.10" r="2.3" fill="#000"/>
<circle cx="415.17" cy="772.10" r="2.3" fill="#000"/>
<circle cx="419.28" cy="772.10" r="2.3" fill="#000"/>
<circle cx="422.58" cy="772.51" r="2.3" fill="#000"/>
<circle cx="434.92" cy="772.51" r="2.3" fill="#000"/>
<circle cx="438.21" cy="772.92" r="2.3" fill="#000"/>
<circle cx="406.94" cy="775.39" r="2.3" fill="#000"/>
<circle cx="411.05" cy="775.39" r="2.3" fill="#000"/>
<circle cx="415.99" cy="774.57" r="2.3" fill="#000"/>
<circle cx="420.93" cy="774.57" r="2.3" fill="#000"/>
<circle cx="437.39" cy="777.04" r="2.3" fill="#000"/>
<circle cx="440.68" cy="779.09" r="2.3" fill="#000"/>
<circle cx="411.05" cy="778.68" r="2.3" fill="#000"/>
<circle cx="415.17" cy="779.51" r="2.3" fill="#000"/>
<circle cx="420.93" cy="779.51" r="2.3" fill="#000"/>
<circle cx="409.41" cy="781.98" r="2.3" fill="#000"/>
<circle cx="412.70" cy="781.98" r="2.3" fill="#000"/>
<circle cx="408.58" cy="785.27" r="2.3" fill="#000"/>
<circle cx="416.81" cy="784.44" r="2.3" fill="#000"/>
<circle cx="410.23" cy="787.74" r="2.3" fill="#000"/>
<circle cx="418.46" cy="786.91" r="2.3" fill="#000"/>
<circle cx="427.51" cy="788.15" r="2.3" fill="#000"/>
<circle cx="438.21" cy="788.56" r="2.3" fill="#000"/>
<circle cx="417.23" cy="793.09" r="2.3" fill="#000"/>
<circle cx="446.03" cy="744.12" r="2.3" fill="#000"/>
<circle cx="449.33" cy="753.58" r="2.3" fill="#000"/>
<circle cx="456.32" cy="764.69" r="2.3" fill="#000"/>
<circle cx="451.79" cy="777.86" r="2.3" fill="#000"/>
<circle cx="411.88" cy="760.58" r="2.3" fill="#000"/>
<circle cx="414.35" cy="763.05" r="2.3" fill="#000"/>
<circle cx="410.23" cy="764.69" r="2.3" fill="#000"/>
<circle cx="413.52" cy="767.16" r="2.3" fill="#000"/>
<circle cx="416.81" cy="764.69" r="2.3" fill="#000"/>
<circle cx="411.05" cy="769.63" r="2.3" fill="#000"/>
<circle cx="414.35" cy="770.45" r="2.3" fill="#000"/>
<circle cx="417.64" cy="767.16" r="2.3" fill="#000"/>
<circle cx="409.41" cy="772.92" r="2.3" fill="#000"/>
<circle cx="413.52" cy="773.74" r="2.3" fill="#000"/>
<circle cx="417.64" cy="773.74" r="2.3" fill="#000"/>
<circle cx="408.58" cy="778.68" r="2.3" fill="#000"/>
<circle cx="413.52" cy="777.04" r="2.3" fill="#000"/>
<circle cx="418.46" cy="777.04" r="2.3" fill="#000"/>
<circle cx="407.76" cy="781.15" r="2.3" fill="#000"/>
<circle cx="411.88" cy="784.44" r="2.3" fill="#000"/>
<circle cx="414.35" cy="786.09" r="2.3" fill="#000"/>
<circle cx="418.63" cy="738.07" r="2.3" fill="#000"/>
<circle cx="445.71" cy="744.40" r="2.3" fill="#000"/>
<circle cx="520.41" cy="753.43" r="2.3" fill="#000"/>
<circle cx="452.24" cy="777.63" r="2.3" fill="#000"/>
<circle cx="472.59" cy="782.81" r="2.3" fill="#000"/>
<circle cx="456.08" cy="764.95" r="2.3" fill="#000"/>
<polyline points="404.23,769.75 520.03,761.69" fill="none" stroke="#000" stroke-width="1.6" stroke-linejoin="round"/>
<polyline points="404.23,767.45 438.41,763.03 476.82,754.58 520.03,745.36" fill="none" stroke="#000" stroke-width="1.1" stroke-linejoin="round" stroke-dasharray="3.4,2.2"/>
<polyline points="404.23,771.87 438.41,770.33 476.82,773.79 520.03,778.40" fill="none" stroke="#000" stroke-width="1.1" stroke-linejoin="round" stroke-dasharray="3.4,2.2"/>
<text transform="translate(382.20 747.90) rotate(-90)" font-size="11.08" font-weight="bold" text-anchor="middle" textLength="62.5" lengthAdjust="spacingAndGlyphs">Testosterone</text>
<line x1="585.60" y1="684.10" x2="585.60" y2="810.40" stroke="#000" stroke-width="1.7"/>
<line x1="581.10" y1="809.60" x2="585.60" y2="809.60" stroke="#000" stroke-width="1.7"/>
<text x="580.60" y="813.20" font-size="10.01" font-weight="bold" text-anchor="end" textLength="4.81" lengthAdjust="spacingAndGlyphs">0</text>
<line x1="581.10" y1="768.03" x2="585.60" y2="768.03" stroke="#000" stroke-width="1.7"/>
<text x="580.60" y="771.64" font-size="10.01" font-weight="bold" text-anchor="end" textLength="9.61" lengthAdjust="spacingAndGlyphs">50</text>
<line x1="581.10" y1="726.47" x2="585.60" y2="726.47" stroke="#000" stroke-width="1.7"/>
<text x="580.60" y="730.07" font-size="10.01" font-weight="bold" text-anchor="end" textLength="14.42" lengthAdjust="spacingAndGlyphs">100</text>
<line x1="581.10" y1="684.90" x2="585.60" y2="684.90" stroke="#000" stroke-width="1.7"/>
<text x="580.60" y="688.50" font-size="10.01" font-weight="bold" text-anchor="end" textLength="14.42" lengthAdjust="spacingAndGlyphs">150</text>
<line x1="584.80" y1="809.60" x2="710.40" y2="809.60" stroke="#000" stroke-width="1.7"/>
<line x1="585.60" y1="809.60" x2="585.60" y2="813.80" stroke="#000" stroke-width="1.7"/>
<text x="585.60" y="823.60" font-size="9.79" font-weight="bold" text-anchor="middle" textLength="12.62" lengthAdjust="spacingAndGlyphs">0.0</text>
<line x1="610.40" y1="809.60" x2="610.40" y2="813.80" stroke="#000" stroke-width="1.7"/>
<text x="610.40" y="823.60" font-size="9.79" font-weight="bold" text-anchor="middle" textLength="12.62" lengthAdjust="spacingAndGlyphs">0.1</text>
<line x1="635.20" y1="809.60" x2="635.20" y2="813.80" stroke="#000" stroke-width="1.7"/>
<text x="635.20" y="823.60" font-size="9.79" font-weight="bold" text-anchor="middle" textLength="12.62" lengthAdjust="spacingAndGlyphs">0.2</text>
<line x1="660.00" y1="809.60" x2="660.00" y2="813.80" stroke="#000" stroke-width="1.7"/>
<text x="660.00" y="823.60" font-size="9.79" font-weight="bold" text-anchor="middle" textLength="12.62" lengthAdjust="spacingAndGlyphs">0.3</text>
<line x1="684.80" y1="809.60" x2="684.80" y2="813.80" stroke="#000" stroke-width="1.7"/>
<text x="684.80" y="823.60" font-size="9.79" font-weight="bold" text-anchor="middle" textLength="12.62" lengthAdjust="spacingAndGlyphs">0.4</text>
<line x1="709.60" y1="809.60" x2="709.60" y2="813.80" stroke="#000" stroke-width="1.7"/>
<text x="709.60" y="823.60" font-size="9.79" font-weight="bold" text-anchor="middle" textLength="12.62" lengthAdjust="spacingAndGlyphs">0.5</text>
<circle cx="610.73" cy="701.70" r="2.3" fill="#000"/>
<circle cx="610.40" cy="788.10" r="2.3" fill="#000"/>
<circle cx="600.00" cy="796.90" r="2.3" fill="#000"/>
<circle cx="602.20" cy="795.50" r="2.3" fill="#000"/>
<circle cx="608.80" cy="798.00" r="2.3" fill="#000"/>
<circle cx="633.00" cy="798.50" r="2.3" fill="#000"/>
<circle cx="637.90" cy="802.40" r="2.3" fill="#000"/>
<circle cx="654.40" cy="809.00" r="2.3" fill="#000"/>
<circle cx="629.10" cy="806.20" r="2.3" fill="#000"/>
<circle cx="627.50" cy="807.50" r="2.3" fill="#000"/>
<circle cx="630.70" cy="807.50" r="2.3" fill="#000"/>
<circle cx="628.00" cy="805.00" r="2.3" fill="#000"/>
<circle cx="702.00" cy="797.50" r="2.3" fill="#000"/>
<circle cx="611.00" cy="803.00" r="2.3" fill="#000"/>
<circle cx="615.00" cy="805.00" r="2.3" fill="#000"/>
<circle cx="620.00" cy="806.00" r="2.3" fill="#000"/>
<circle cx="624.00" cy="807.00" r="2.3" fill="#000"/>
<circle cx="586.99" cy="802.92" r="2.3" fill="#000"/>
<circle cx="586.94" cy="803.26" r="2.3" fill="#000"/>
<circle cx="599.29" cy="804.91" r="2.3" fill="#000"/>
<circle cx="594.38" cy="805.43" r="2.3" fill="#000"/>
<circle cx="589.52" cy="802.80" r="2.3" fill="#000"/>
<circle cx="589.09" cy="808.08" r="2.3" fill="#000"/>
<circle cx="591.76" cy="805.23" r="2.3" fill="#000"/>
<circle cx="590.49" cy="807.32" r="2.3" fill="#000"/>
<circle cx="597.94" cy="804.99" r="2.3" fill="#000"/>
<circle cx="594.61" cy="805.07" r="2.3" fill="#000"/>
<circle cx="595.75" cy="806.36" r="2.3" fill="#000"/>
<circle cx="595.82" cy="808.36" r="2.3" fill="#000"/>
<circle cx="602.15" cy="802.83" r="2.3" fill="#000"/>
<circle cx="592.46" cy="802.76" r="2.3" fill="#000"/>
<circle cx="592.37" cy="807.72" r="2.3" fill="#000"/>
<circle cx="597.55" cy="806.19" r="2.3" fill="#000"/>
<circle cx="587.47" cy="807.77" r="2.3" fill="#000"/>
<circle cx="596.41" cy="804.47" r="2.3" fill="#000"/>
<circle cx="599.35" cy="802.75" r="2.3" fill="#000"/>
<circle cx="589.19" cy="807.63" r="2.3" fill="#000"/>
<circle cx="586.78" cy="803.36" r="2.3" fill="#000"/>
<circle cx="594.53" cy="807.12" r="2.3" fill="#000"/>
<circle cx="596.02" cy="802.74" r="2.3" fill="#000"/>
<circle cx="590.67" cy="807.09" r="2.3" fill="#000"/>
<circle cx="591.92" cy="803.76" r="2.3" fill="#000"/>
<circle cx="586.04" cy="804.21" r="2.3" fill="#000"/>
<circle cx="601.82" cy="802.82" r="2.3" fill="#000"/>
<circle cx="595.40" cy="808.41" r="2.3" fill="#000"/>
<circle cx="597.91" cy="804.33" r="2.3" fill="#000"/>
<circle cx="597.03" cy="803.28" r="2.3" fill="#000"/>
<circle cx="612.47" cy="805.37" r="2.3" fill="#000"/>
<circle cx="621.89" cy="808.50" r="2.3" fill="#000"/>
<circle cx="619.05" cy="805.95" r="2.3" fill="#000"/>
<circle cx="619.92" cy="809.10" r="2.3" fill="#000"/>
<circle cx="609.24" cy="806.73" r="2.3" fill="#000"/>
<circle cx="604.06" cy="804.56" r="2.3" fill="#000"/>
<circle cx="618.00" cy="804.31" r="2.3" fill="#000"/>
<circle cx="615.03" cy="804.59" r="2.3" fill="#000"/>
<circle cx="616.73" cy="807.92" r="2.3" fill="#000"/>
<circle cx="623.52" cy="806.03" r="2.3" fill="#000"/>
<circle cx="609.74" cy="806.08" r="2.3" fill="#000"/>
<circle cx="617.65" cy="808.10" r="2.3" fill="#000"/>
<circle cx="602.89" cy="805.69" r="2.3" fill="#000"/>
<circle cx="601.38" cy="805.22" r="2.3" fill="#000"/>
<circle cx="618.34" cy="808.87" r="2.3" fill="#000"/>
<circle cx="624.51" cy="804.35" r="2.3" fill="#000"/>
<polyline points="585.60,804.80 702.00,797.10" fill="none" stroke="#000" stroke-width="1.6" stroke-linejoin="round"/>
<polyline points="585.60,801.90 620.00,798.50 663.00,789.80 702.00,779.90" fill="none" stroke="#000" stroke-width="1.1" stroke-linejoin="round" stroke-dasharray="3.4,2.2"/>
<text transform="translate(557.10 748.00) rotate(-90)" font-size="10.34" font-weight="bold" text-anchor="middle" textLength="19.9" lengthAdjust="spacingAndGlyphs">CRP</text>
<text x="87.70" y="459.60" font-size="10.59" textLength="39.8" lengthAdjust="spacingAndGlyphs">r = 0.23</text>
<text x="87.70" y="473.10" font-size="10.59" textLength="74.1" lengthAdjust="spacingAndGlyphs">p-value = 0.03</text>
<text x="252.80" y="449.60" font-size="11.32" textLength="42" lengthAdjust="spacingAndGlyphs">r = 0.34</text>
<text x="252.80" y="463.70" font-size="11.32" textLength="93" lengthAdjust="spacingAndGlyphs">p-value = 0.0063</text>
<text x="446.80" y="458.60" font-size="11.04" textLength="45.7" lengthAdjust="spacingAndGlyphs">r = -0.27</text>
<text x="446.80" y="472.20" font-size="11.04" textLength="77.2" lengthAdjust="spacingAndGlyphs">p-value = 0.01</text>
<text x="634.20" y="458.30" font-size="10.79" textLength="39.5" lengthAdjust="spacingAndGlyphs">r = 0.21</text>
<text x="634.20" y="471.90" font-size="10.79" textLength="75.5" lengthAdjust="spacingAndGlyphs">p-value = 0.04</text>
<text x="84.40" y="688.40" font-size="10.35" textLength="42.7" lengthAdjust="spacingAndGlyphs">r = -0.03</text>
<text x="84.40" y="702.40" font-size="10.35" textLength="72.4" lengthAdjust="spacingAndGlyphs">p-value = 0.79</text>
<text x="261.40" y="684.20" font-size="10.82" textLength="44.5" lengthAdjust="spacingAndGlyphs">r = -0.20</text>
<text x="261.40" y="698.40" font-size="10.82" textLength="75.7" lengthAdjust="spacingAndGlyphs">p-value = 0.13</text>
<text x="457.90" y="687.20" font-size="10.81" textLength="44.5" lengthAdjust="spacingAndGlyphs">r = -0.09</text>
<text x="457.90" y="701.10" font-size="10.81" textLength="75.6" lengthAdjust="spacingAndGlyphs">p-value = 0.46</text>
<text x="639.20" y="698.60" font-size="10.77" textLength="40.3" lengthAdjust="spacingAndGlyphs">r = 0.10</text>
<text x="639.20" y="712.80" font-size="10.77" textLength="75.3" lengthAdjust="spacingAndGlyphs">p-value = 0.37</text>
<text x="101.00" y="615.00" font-size="10" font-weight="bold" text-anchor="middle" textLength="38" lengthAdjust="spacingAndGlyphs">miR-107</text>
<text x="281.50" y="615.20" font-size="10" font-weight="bold" text-anchor="middle" textLength="41.1" lengthAdjust="spacingAndGlyphs">miR-107</text>
<text x="467.90" y="615.20" font-size="10" font-weight="bold" text-anchor="middle" textLength="40.8" lengthAdjust="spacingAndGlyphs">miR-107</text>
<text x="646.80" y="615.00" font-size="10" font-weight="bold" text-anchor="middle" textLength="39.3" lengthAdjust="spacingAndGlyphs">miR-107</text>
<text x="99.10" y="837.60" font-size="10" font-weight="bold" text-anchor="middle" textLength="37.5" lengthAdjust="spacingAndGlyphs">miR-107</text>
<text x="278.40" y="838.40" font-size="10" font-weight="bold" text-anchor="middle" textLength="38.7" lengthAdjust="spacingAndGlyphs">miR-107</text>
<text x="465.70" y="838.40" font-size="10" font-weight="bold" text-anchor="middle" textLength="39.1" lengthAdjust="spacingAndGlyphs">miR-107</text>
<text x="647.40" y="838.40" font-size="10" font-weight="bold" text-anchor="middle" textLength="39.1" lengthAdjust="spacingAndGlyphs">miR-107</text>
</svg>
</body></html>
